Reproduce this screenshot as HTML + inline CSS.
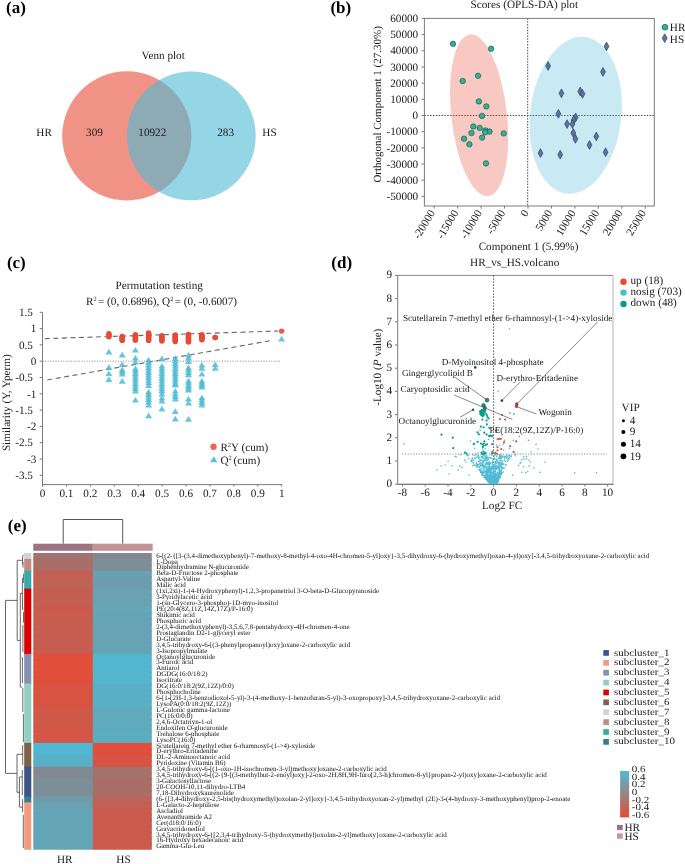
<!DOCTYPE html>
<html><head><meta charset="utf-8"><style>
html,body{margin:0;padding:0;background:#fff;}
svg{display:block;}
text{font-family:"Liberation Serif", serif; text-rendering:geometricPrecision;}
</style></head><body>
<svg width="685" height="864" viewBox="0 0 685 864">
<g style="filter:blur(0)">
<text x="6.00" y="12.70" font-size="17" text-anchor="start" fill="#000" font-weight="bold">(a)</text>
<text x="330.40" y="12.70" font-size="17" text-anchor="start" fill="#000" font-weight="bold">(b)</text>
<text x="6.90" y="268.00" font-size="17" text-anchor="start" fill="#000" font-weight="bold">(c)</text>
<text x="331.30" y="268.00" font-size="17" text-anchor="start" fill="#000" font-weight="bold">(d)</text>
<text x="7.80" y="531.30" font-size="17" text-anchor="start" fill="#000" font-weight="bold">(e)</text>
<circle cx="126.8" cy="135.9" r="64.6" fill="#E64B35" fill-opacity="0.6"/>
<circle cx="191.3" cy="135.9" r="64.4" fill="#4DBBD5" fill-opacity="0.6"/>
<text x="163.20" y="58.50" font-size="11.2" text-anchor="middle" fill="#1a1a1a">Venn plot</text>
<text x="36.30" y="136.20" font-size="11.2" text-anchor="start" fill="#1a1a1a">HR</text>
<text x="262.30" y="136.40" font-size="11.2" text-anchor="start" fill="#1a1a1a">HS</text>
<text x="94.50" y="136.20" font-size="11.2" text-anchor="middle" fill="#1a1a1a">309</text>
<text x="152.30" y="136.20" font-size="11.2" text-anchor="middle" fill="#1a1a1a">10922</text>
<text x="225.60" y="136.40" font-size="11.2" text-anchor="middle" fill="#1a1a1a">283</text>
<line x1="424.40" y1="115.50" x2="654.30" y2="115.50" stroke="#444" stroke-width="1.0" stroke-dasharray="1.45,1.4"/>
<line x1="527.70" y1="18.40" x2="527.70" y2="206.00" stroke="#444" stroke-width="1.0" stroke-dasharray="1.45,1.4"/>
<ellipse cx="479.1" cy="115.2" rx="27.8" ry="81.3" transform="rotate(-6.4 479.1 115.2)" fill="#E64B35" fill-opacity="0.3"/>
<ellipse cx="575.7" cy="115.3" rx="45.6" ry="78.8" transform="rotate(6.56 575.7 115.3)" fill="#4DBBD5" fill-opacity="0.3"/>
<rect x="424.4" y="18.4" width="229.90" height="187.60" fill="none" stroke="#7a7a7a" stroke-width="1.0"/>
<line x1="421.60" y1="18.40" x2="424.40" y2="18.40" stroke="#7a7a7a" stroke-width="1" />
<text x="418.20" y="22.10" font-size="11.2" text-anchor="end" fill="#1a1a1a">60000</text>
<line x1="421.60" y1="34.58" x2="424.40" y2="34.58" stroke="#7a7a7a" stroke-width="1" />
<text x="418.20" y="38.28" font-size="11.2" text-anchor="end" fill="#1a1a1a">50000</text>
<line x1="421.60" y1="50.76" x2="424.40" y2="50.76" stroke="#7a7a7a" stroke-width="1" />
<text x="418.20" y="54.46" font-size="11.2" text-anchor="end" fill="#1a1a1a">40000</text>
<line x1="421.60" y1="66.94" x2="424.40" y2="66.94" stroke="#7a7a7a" stroke-width="1" />
<text x="418.20" y="70.64" font-size="11.2" text-anchor="end" fill="#1a1a1a">30000</text>
<line x1="421.60" y1="83.12" x2="424.40" y2="83.12" stroke="#7a7a7a" stroke-width="1" />
<text x="418.20" y="86.82" font-size="11.2" text-anchor="end" fill="#1a1a1a">20000</text>
<line x1="421.60" y1="99.30" x2="424.40" y2="99.30" stroke="#7a7a7a" stroke-width="1" />
<text x="418.20" y="103.00" font-size="11.2" text-anchor="end" fill="#1a1a1a">10000</text>
<line x1="421.60" y1="115.48" x2="424.40" y2="115.48" stroke="#7a7a7a" stroke-width="1" />
<text x="418.20" y="119.18" font-size="11.2" text-anchor="end" fill="#1a1a1a">0</text>
<line x1="421.60" y1="131.66" x2="424.40" y2="131.66" stroke="#7a7a7a" stroke-width="1" />
<text x="418.20" y="135.36" font-size="11.2" text-anchor="end" fill="#1a1a1a">-10000</text>
<line x1="421.60" y1="147.84" x2="424.40" y2="147.84" stroke="#7a7a7a" stroke-width="1" />
<text x="418.20" y="151.54" font-size="11.2" text-anchor="end" fill="#1a1a1a">-20000</text>
<line x1="421.60" y1="164.02" x2="424.40" y2="164.02" stroke="#7a7a7a" stroke-width="1" />
<text x="418.20" y="167.72" font-size="11.2" text-anchor="end" fill="#1a1a1a">-30000</text>
<line x1="421.60" y1="180.20" x2="424.40" y2="180.20" stroke="#7a7a7a" stroke-width="1" />
<text x="418.20" y="183.90" font-size="11.2" text-anchor="end" fill="#1a1a1a">-40000</text>
<line x1="421.60" y1="196.38" x2="424.40" y2="196.38" stroke="#7a7a7a" stroke-width="1" />
<text x="418.20" y="200.08" font-size="11.2" text-anchor="end" fill="#1a1a1a">-50000</text>
<line x1="434.20" y1="206.00" x2="434.20" y2="208.60" stroke="#7a7a7a" stroke-width="1" />
<text transform="translate(435.40,212.60) rotate(-59)" font-size="11.2" text-anchor="end" fill="#1a1a1a">-20000</text>
<line x1="457.65" y1="206.00" x2="457.65" y2="208.60" stroke="#7a7a7a" stroke-width="1" />
<text transform="translate(458.85,212.60) rotate(-59)" font-size="11.2" text-anchor="end" fill="#1a1a1a">-15000</text>
<line x1="481.10" y1="206.00" x2="481.10" y2="208.60" stroke="#7a7a7a" stroke-width="1" />
<text transform="translate(482.30,212.60) rotate(-59)" font-size="11.2" text-anchor="end" fill="#1a1a1a">-10000</text>
<line x1="504.55" y1="206.00" x2="504.55" y2="208.60" stroke="#7a7a7a" stroke-width="1" />
<text transform="translate(505.75,212.60) rotate(-59)" font-size="11.2" text-anchor="end" fill="#1a1a1a">-5000</text>
<line x1="528.00" y1="206.00" x2="528.00" y2="208.60" stroke="#7a7a7a" stroke-width="1" />
<text transform="translate(529.20,212.60) rotate(-59)" font-size="11.2" text-anchor="end" fill="#1a1a1a">0</text>
<line x1="551.45" y1="206.00" x2="551.45" y2="208.60" stroke="#7a7a7a" stroke-width="1" />
<text transform="translate(552.65,212.60) rotate(-59)" font-size="11.2" text-anchor="end" fill="#1a1a1a">5000</text>
<line x1="574.90" y1="206.00" x2="574.90" y2="208.60" stroke="#7a7a7a" stroke-width="1" />
<text transform="translate(576.10,212.60) rotate(-59)" font-size="11.2" text-anchor="end" fill="#1a1a1a">10000</text>
<line x1="598.35" y1="206.00" x2="598.35" y2="208.60" stroke="#7a7a7a" stroke-width="1" />
<text transform="translate(599.55,212.60) rotate(-59)" font-size="11.2" text-anchor="end" fill="#1a1a1a">15000</text>
<line x1="621.80" y1="206.00" x2="621.80" y2="208.60" stroke="#7a7a7a" stroke-width="1" />
<text transform="translate(623.00,212.60) rotate(-59)" font-size="11.2" text-anchor="end" fill="#1a1a1a">20000</text>
<line x1="645.25" y1="206.00" x2="645.25" y2="208.60" stroke="#7a7a7a" stroke-width="1" />
<text transform="translate(646.45,212.60) rotate(-59)" font-size="11.2" text-anchor="end" fill="#1a1a1a">25000</text>
<text x="528.50" y="249.60" font-size="11.2" text-anchor="middle" fill="#1a1a1a">Component 1 (5.99%)</text>
<text x="524.30" y="7.60" font-size="11.2" text-anchor="middle" fill="#1a1a1a">Scores (OPLS-DA) plot</text>
<text transform="translate(380.6,104.4) rotate(-90)" font-size="11.0" text-anchor="middle" fill="#1a1a1a">Orthogonal Component 1 (27.30%)</text>
<circle cx="452.95" cy="43.85" r="2.75" fill="#2DB39A" stroke="#24453e" stroke-width="0.6"/>
<circle cx="491.1" cy="48.8" r="2.75" fill="#2DB39A" stroke="#24453e" stroke-width="0.6"/>
<circle cx="478" cy="75.8" r="2.75" fill="#2DB39A" stroke="#24453e" stroke-width="0.6"/>
<circle cx="462.7" cy="81" r="2.75" fill="#2DB39A" stroke="#24453e" stroke-width="0.6"/>
<circle cx="478.9" cy="101.4" r="2.75" fill="#2DB39A" stroke="#24453e" stroke-width="0.6"/>
<circle cx="486.3" cy="106.4" r="2.75" fill="#2DB39A" stroke="#24453e" stroke-width="0.6"/>
<circle cx="482" cy="115.9" r="2.75" fill="#2DB39A" stroke="#24453e" stroke-width="0.6"/>
<circle cx="473.3" cy="126.5" r="2.75" fill="#2DB39A" stroke="#24453e" stroke-width="0.6"/>
<circle cx="479.7" cy="127.9" r="2.75" fill="#2DB39A" stroke="#24453e" stroke-width="0.6"/>
<circle cx="485.5" cy="130.5" r="2.75" fill="#2DB39A" stroke="#24453e" stroke-width="0.6"/>
<circle cx="489.5" cy="131.6" r="2.75" fill="#2DB39A" stroke="#24453e" stroke-width="0.6"/>
<circle cx="485.2" cy="132.3" r="2.75" fill="#2DB39A" stroke="#24453e" stroke-width="0.6"/>
<circle cx="471.5" cy="133.1" r="2.75" fill="#2DB39A" stroke="#24453e" stroke-width="0.6"/>
<circle cx="503.7" cy="133.4" r="2.75" fill="#2DB39A" stroke="#24453e" stroke-width="0.6"/>
<circle cx="464" cy="138.7" r="2.75" fill="#2DB39A" stroke="#24453e" stroke-width="0.6"/>
<circle cx="482.1" cy="137.6" r="2.75" fill="#2DB39A" stroke="#24453e" stroke-width="0.6"/>
<circle cx="469.4" cy="144.3" r="2.75" fill="#2DB39A" stroke="#24453e" stroke-width="0.6"/>
<circle cx="486" cy="163.4" r="2.75" fill="#2DB39A" stroke="#24453e" stroke-width="0.6"/>
<path d="M606.50,42.00 L608.95,46.40 L606.50,50.80 L604.05,46.40 Z" fill="#5A72A8" stroke="#2a3550" stroke-width="0.6"/>
<path d="M548.10,61.60 L550.55,66.00 L548.10,70.40 L545.65,66.00 Z" fill="#5A72A8" stroke="#2a3550" stroke-width="0.6"/>
<path d="M603.00,67.50 L605.45,71.90 L603.00,76.30 L600.55,71.90 Z" fill="#5A72A8" stroke="#2a3550" stroke-width="0.6"/>
<path d="M561.40,88.90 L563.85,93.30 L561.40,97.70 L558.95,93.30 Z" fill="#5A72A8" stroke="#2a3550" stroke-width="0.6"/>
<path d="M580.20,87.00 L582.65,91.40 L580.20,95.80 L577.75,91.40 Z" fill="#5A72A8" stroke="#2a3550" stroke-width="0.6"/>
<path d="M582.50,89.50 L584.95,93.90 L582.50,98.30 L580.05,93.90 Z" fill="#5A72A8" stroke="#2a3550" stroke-width="0.6"/>
<path d="M558.40,109.40 L560.85,113.80 L558.40,118.20 L555.95,113.80 Z" fill="#5A72A8" stroke="#2a3550" stroke-width="0.6"/>
<path d="M575.60,113.00 L578.05,117.40 L575.60,121.80 L573.15,117.40 Z" fill="#5A72A8" stroke="#2a3550" stroke-width="0.6"/>
<path d="M573.70,115.70 L576.15,120.10 L573.70,124.50 L571.25,120.10 Z" fill="#5A72A8" stroke="#2a3550" stroke-width="0.6"/>
<path d="M567.10,119.70 L569.55,124.10 L567.10,128.50 L564.65,124.10 Z" fill="#5A72A8" stroke="#2a3550" stroke-width="0.6"/>
<path d="M572.40,119.70 L574.85,124.10 L572.40,128.50 L569.95,124.10 Z" fill="#5A72A8" stroke="#2a3550" stroke-width="0.6"/>
<path d="M573.30,128.60 L575.75,133.00 L573.30,137.40 L570.85,133.00 Z" fill="#5A72A8" stroke="#2a3550" stroke-width="0.6"/>
<path d="M575.40,134.50 L577.85,138.90 L575.40,143.30 L572.95,138.90 Z" fill="#5A72A8" stroke="#2a3550" stroke-width="0.6"/>
<path d="M596.30,132.00 L598.75,136.40 L596.30,140.80 L593.85,136.40 Z" fill="#5A72A8" stroke="#2a3550" stroke-width="0.6"/>
<path d="M589.50,140.60 L591.95,145.00 L589.50,149.40 L587.05,145.00 Z" fill="#5A72A8" stroke="#2a3550" stroke-width="0.6"/>
<path d="M605.60,147.80 L608.05,152.20 L605.60,156.60 L603.15,152.20 Z" fill="#5A72A8" stroke="#2a3550" stroke-width="0.6"/>
<path d="M540.50,148.70 L542.95,153.10 L540.50,157.50 L538.05,153.10 Z" fill="#5A72A8" stroke="#2a3550" stroke-width="0.6"/>
<path d="M560.20,150.30 L562.65,154.70 L560.20,159.10 L557.75,154.70 Z" fill="#5A72A8" stroke="#2a3550" stroke-width="0.6"/>
<circle cx="665" cy="27.2" r="2.9" fill="#2DB39A" stroke="#24453e" stroke-width="0.6"/>
<text x="669.80" y="31.00" font-size="11.2" text-anchor="start" fill="#1a1a1a">HR</text>
<path d="M664.7,33.8 L667.2,38.2 L664.7,42.6 L662.2,38.2 Z" fill="#5A72A8" stroke="#2a3550" stroke-width="0.6"/>
<text x="669.80" y="42.90" font-size="11.2" text-anchor="start" fill="#1a1a1a">HS</text>
<line x1="42.50" y1="312.30" x2="42.50" y2="486.70" stroke="#7a7a7a" stroke-width="1" />
<line x1="42.50" y1="484.60" x2="282.20" y2="484.60" stroke="#7a7a7a" stroke-width="1" />
<line x1="39.70" y1="475.30" x2="42.50" y2="475.30" stroke="#7a7a7a" stroke-width="1" />
<text x="32.90" y="479.00" font-size="11.2" text-anchor="end" fill="#1a1a1a">-3.5</text>
<line x1="39.70" y1="459.00" x2="42.50" y2="459.00" stroke="#7a7a7a" stroke-width="1" />
<text x="36.40" y="462.70" font-size="11.2" text-anchor="end" fill="#1a1a1a">-3</text>
<line x1="39.70" y1="442.70" x2="42.50" y2="442.70" stroke="#7a7a7a" stroke-width="1" />
<text x="32.90" y="446.40" font-size="11.2" text-anchor="end" fill="#1a1a1a">-2.5</text>
<line x1="39.70" y1="426.40" x2="42.50" y2="426.40" stroke="#7a7a7a" stroke-width="1" />
<text x="36.40" y="430.10" font-size="11.2" text-anchor="end" fill="#1a1a1a">-2</text>
<line x1="39.70" y1="410.10" x2="42.50" y2="410.10" stroke="#7a7a7a" stroke-width="1" />
<text x="32.90" y="413.80" font-size="11.2" text-anchor="end" fill="#1a1a1a">-1.5</text>
<line x1="39.70" y1="393.80" x2="42.50" y2="393.80" stroke="#7a7a7a" stroke-width="1" />
<text x="36.40" y="397.50" font-size="11.2" text-anchor="end" fill="#1a1a1a">-1</text>
<line x1="39.70" y1="377.50" x2="42.50" y2="377.50" stroke="#7a7a7a" stroke-width="1" />
<text x="32.90" y="381.20" font-size="11.2" text-anchor="end" fill="#1a1a1a">-0.5</text>
<line x1="39.70" y1="361.20" x2="42.50" y2="361.20" stroke="#7a7a7a" stroke-width="1" />
<text x="36.40" y="364.90" font-size="11.2" text-anchor="end" fill="#1a1a1a">0</text>
<line x1="39.70" y1="344.90" x2="42.50" y2="344.90" stroke="#7a7a7a" stroke-width="1" />
<text x="32.90" y="348.60" font-size="11.2" text-anchor="end" fill="#1a1a1a">0.5</text>
<line x1="39.70" y1="328.60" x2="42.50" y2="328.60" stroke="#7a7a7a" stroke-width="1" />
<text x="36.40" y="332.30" font-size="11.2" text-anchor="end" fill="#1a1a1a">1</text>
<line x1="39.70" y1="312.30" x2="42.50" y2="312.30" stroke="#7a7a7a" stroke-width="1" />
<text x="32.90" y="316.00" font-size="11.2" text-anchor="end" fill="#1a1a1a">1.5</text>
<line x1="42.50" y1="484.60" x2="42.50" y2="486.60" stroke="#7a7a7a" stroke-width="1" />
<text x="42.50" y="496.60" font-size="11.2" text-anchor="middle" fill="#1a1a1a">0</text>
<line x1="66.42" y1="484.60" x2="66.42" y2="486.60" stroke="#7a7a7a" stroke-width="1" />
<text x="66.42" y="496.60" font-size="11.2" text-anchor="middle" fill="#1a1a1a">0.1</text>
<line x1="90.34" y1="484.60" x2="90.34" y2="486.60" stroke="#7a7a7a" stroke-width="1" />
<text x="90.34" y="496.60" font-size="11.2" text-anchor="middle" fill="#1a1a1a">0.2</text>
<line x1="114.26" y1="484.60" x2="114.26" y2="486.60" stroke="#7a7a7a" stroke-width="1" />
<text x="114.26" y="496.60" font-size="11.2" text-anchor="middle" fill="#1a1a1a">0.3</text>
<line x1="138.18" y1="484.60" x2="138.18" y2="486.60" stroke="#7a7a7a" stroke-width="1" />
<text x="138.18" y="496.60" font-size="11.2" text-anchor="middle" fill="#1a1a1a">0.4</text>
<line x1="162.10" y1="484.60" x2="162.10" y2="486.60" stroke="#7a7a7a" stroke-width="1" />
<text x="162.10" y="496.60" font-size="11.2" text-anchor="middle" fill="#1a1a1a">0.5</text>
<line x1="186.02" y1="484.60" x2="186.02" y2="486.60" stroke="#7a7a7a" stroke-width="1" />
<text x="186.02" y="496.60" font-size="11.2" text-anchor="middle" fill="#1a1a1a">0.6</text>
<line x1="209.94" y1="484.60" x2="209.94" y2="486.60" stroke="#7a7a7a" stroke-width="1" />
<text x="209.94" y="496.60" font-size="11.2" text-anchor="middle" fill="#1a1a1a">0.7</text>
<line x1="233.86" y1="484.60" x2="233.86" y2="486.60" stroke="#7a7a7a" stroke-width="1" />
<text x="233.86" y="496.60" font-size="11.2" text-anchor="middle" fill="#1a1a1a">0.8</text>
<line x1="257.78" y1="484.60" x2="257.78" y2="486.60" stroke="#7a7a7a" stroke-width="1" />
<text x="257.78" y="496.60" font-size="11.2" text-anchor="middle" fill="#1a1a1a">0.9</text>
<line x1="281.70" y1="484.60" x2="281.70" y2="486.60" stroke="#7a7a7a" stroke-width="1" />
<text x="281.70" y="496.60" font-size="11.2" text-anchor="middle" fill="#1a1a1a">1</text>
<line x1="42.50" y1="361.20" x2="281.70" y2="361.20" stroke="#888" stroke-width="1" stroke-dasharray="1,1.6"/>
<text x="159.20" y="288.60" font-size="11.2" text-anchor="middle" fill="#1a1a1a">Permutation testing</text>
<text x="86.0" y="304.7" font-size="11.2" fill="#1a1a1a">R<tspan font-size="6.3" dy="-4.2">2</tspan><tspan dy="4.2" dx="1.4">= (0, 0.6896), Q</tspan><tspan font-size="6.3" dy="-4.2">2</tspan><tspan dy="4.2" dx="1.4">= (0, -0.6007)</tspan></text>
<text transform="translate(10.3,402.7) rotate(-90)" font-size="11.2" text-anchor="middle" fill="#1a1a1a">Similarity (Y, Yperm)</text>
<line x1="44.89" y1="338.64" x2="278.11" y2="331.01" stroke="#666" stroke-width="1.1" stroke-dasharray="5,3.5"/>
<line x1="47.28" y1="379.94" x2="273.33" y2="340.20" stroke="#666" stroke-width="1.1" stroke-dasharray="5,3.5"/>
<circle cx="108.9" cy="333.80" r="2.7" fill="#E64B35"/>
<circle cx="108.9" cy="334.80" r="2.7" fill="#E64B35"/>
<circle cx="108.9" cy="335.80" r="2.7" fill="#E64B35"/>
<circle cx="108.9" cy="336.80" r="2.7" fill="#E64B35"/>
<circle cx="122.2" cy="336.40" r="2.7" fill="#E64B35"/>
<circle cx="122.2" cy="337.20" r="2.7" fill="#E64B35"/>
<circle cx="122.2" cy="338.00" r="2.7" fill="#E64B35"/>
<circle cx="122.2" cy="338.80" r="2.7" fill="#E64B35"/>
<circle cx="122.2" cy="339.60" r="2.7" fill="#E64B35"/>
<circle cx="122.2" cy="340.40" r="2.7" fill="#E64B35"/>
<circle cx="135.4" cy="334.60" r="2.7" fill="#E64B35"/>
<circle cx="135.4" cy="335.53" r="2.7" fill="#E64B35"/>
<circle cx="135.4" cy="336.47" r="2.7" fill="#E64B35"/>
<circle cx="135.4" cy="337.40" r="2.7" fill="#E64B35"/>
<circle cx="135.4" cy="338.33" r="2.7" fill="#E64B35"/>
<circle cx="135.4" cy="339.27" r="2.7" fill="#E64B35"/>
<circle cx="135.4" cy="340.20" r="2.7" fill="#E64B35"/>
<circle cx="148.6" cy="333.00" r="2.7" fill="#E64B35"/>
<circle cx="148.6" cy="333.82" r="2.7" fill="#E64B35"/>
<circle cx="148.6" cy="334.64" r="2.7" fill="#E64B35"/>
<circle cx="148.6" cy="335.47" r="2.7" fill="#E64B35"/>
<circle cx="148.6" cy="336.29" r="2.7" fill="#E64B35"/>
<circle cx="148.6" cy="337.11" r="2.7" fill="#E64B35"/>
<circle cx="148.6" cy="337.93" r="2.7" fill="#E64B35"/>
<circle cx="148.6" cy="338.76" r="2.7" fill="#E64B35"/>
<circle cx="148.6" cy="339.58" r="2.7" fill="#E64B35"/>
<circle cx="148.6" cy="340.40" r="2.7" fill="#E64B35"/>
<circle cx="161.9" cy="335.60" r="2.7" fill="#E64B35"/>
<circle cx="161.9" cy="336.52" r="2.7" fill="#E64B35"/>
<circle cx="161.9" cy="337.43" r="2.7" fill="#E64B35"/>
<circle cx="161.9" cy="338.35" r="2.7" fill="#E64B35"/>
<circle cx="161.9" cy="339.27" r="2.7" fill="#E64B35"/>
<circle cx="161.9" cy="340.18" r="2.7" fill="#E64B35"/>
<circle cx="161.9" cy="341.10" r="2.7" fill="#E64B35"/>
<circle cx="175.3" cy="335.00" r="2.7" fill="#E64B35"/>
<circle cx="175.3" cy="335.81" r="2.7" fill="#E64B35"/>
<circle cx="175.3" cy="336.62" r="2.7" fill="#E64B35"/>
<circle cx="175.3" cy="337.44" r="2.7" fill="#E64B35"/>
<circle cx="175.3" cy="338.25" r="2.7" fill="#E64B35"/>
<circle cx="175.3" cy="339.06" r="2.7" fill="#E64B35"/>
<circle cx="175.3" cy="339.88" r="2.7" fill="#E64B35"/>
<circle cx="175.3" cy="340.69" r="2.7" fill="#E64B35"/>
<circle cx="175.3" cy="341.50" r="2.7" fill="#E64B35"/>
<circle cx="188.5" cy="334.50" r="2.7" fill="#E64B35"/>
<circle cx="188.5" cy="335.33" r="2.7" fill="#E64B35"/>
<circle cx="188.5" cy="336.17" r="2.7" fill="#E64B35"/>
<circle cx="188.5" cy="337.00" r="2.7" fill="#E64B35"/>
<circle cx="188.5" cy="337.83" r="2.7" fill="#E64B35"/>
<circle cx="188.5" cy="338.67" r="2.7" fill="#E64B35"/>
<circle cx="188.5" cy="339.50" r="2.7" fill="#E64B35"/>
<circle cx="188.5" cy="340.33" r="2.7" fill="#E64B35"/>
<circle cx="188.5" cy="341.17" r="2.7" fill="#E64B35"/>
<circle cx="188.5" cy="342.00" r="2.7" fill="#E64B35"/>
<circle cx="201.9" cy="334.80" r="2.7" fill="#E64B35"/>
<circle cx="201.9" cy="335.63" r="2.7" fill="#E64B35"/>
<circle cx="201.9" cy="336.47" r="2.7" fill="#E64B35"/>
<circle cx="201.9" cy="337.30" r="2.7" fill="#E64B35"/>
<circle cx="201.9" cy="338.13" r="2.7" fill="#E64B35"/>
<circle cx="201.9" cy="338.97" r="2.7" fill="#E64B35"/>
<circle cx="201.9" cy="339.80" r="2.7" fill="#E64B35"/>
<circle cx="215.2" cy="337.50" r="2.7" fill="#E64B35"/>
<circle cx="215.2" cy="337.50" r="2.7" fill="#E64B35"/>
<path d="M108.90,348.80 L112.40,354.50 L105.40,354.50 Z" fill="#4DBBD5" fill-opacity="0.85"/>
<path d="M108.90,364.20 L112.40,369.90 L105.40,369.90 Z" fill="#4DBBD5" fill-opacity="0.85"/>
<path d="M108.90,370.40 L112.40,376.10 L105.40,376.10 Z" fill="#4DBBD5" fill-opacity="0.85"/>
<path d="M108.90,376.30 L112.40,382.00 L105.40,382.00 Z" fill="#4DBBD5" fill-opacity="0.85"/>
<path d="M122.20,351.80 L125.70,357.50 L118.70,357.50 Z" fill="#4DBBD5" fill-opacity="0.85"/>
<path d="M122.20,361.20 L125.70,366.90 L118.70,366.90 Z" fill="#4DBBD5" fill-opacity="0.85"/>
<path d="M122.20,366.50 L125.70,372.20 L118.70,372.20 Z" fill="#4DBBD5" fill-opacity="0.85"/>
<path d="M122.20,368.50 L125.70,374.20 L118.70,374.20 Z" fill="#4DBBD5" fill-opacity="0.85"/>
<path d="M122.20,370.70 L125.70,376.40 L118.70,376.40 Z" fill="#4DBBD5" fill-opacity="0.85"/>
<path d="M122.20,378.10 L125.70,383.80 L118.70,383.80 Z" fill="#4DBBD5" fill-opacity="0.85"/>
<path d="M135.40,346.90 L138.90,352.60 L131.90,352.60 Z" fill="#4DBBD5" fill-opacity="0.85"/>
<path d="M135.40,354.90 L138.90,360.60 L131.90,360.60 Z" fill="#4DBBD5" fill-opacity="0.85"/>
<path d="M135.40,358.70 L138.90,364.40 L131.90,364.40 Z" fill="#4DBBD5" fill-opacity="0.85"/>
<path d="M135.40,365.60 L138.90,371.30 L131.90,371.30 Z" fill="#4DBBD5" fill-opacity="0.85"/>
<path d="M135.40,367.90 L138.90,373.60 L131.90,373.60 Z" fill="#4DBBD5" fill-opacity="0.85"/>
<path d="M135.40,370.40 L138.90,376.10 L131.90,376.10 Z" fill="#4DBBD5" fill-opacity="0.85"/>
<path d="M135.40,372.90 L138.90,378.60 L131.90,378.60 Z" fill="#4DBBD5" fill-opacity="0.85"/>
<path d="M135.40,375.40 L138.90,381.10 L131.90,381.10 Z" fill="#4DBBD5" fill-opacity="0.85"/>
<path d="M135.40,377.90 L138.90,383.60 L131.90,383.60 Z" fill="#4DBBD5" fill-opacity="0.85"/>
<path d="M135.40,380.40 L138.90,386.10 L131.90,386.10 Z" fill="#4DBBD5" fill-opacity="0.85"/>
<path d="M135.40,382.90 L138.90,388.60 L131.90,388.60 Z" fill="#4DBBD5" fill-opacity="0.85"/>
<path d="M135.40,385.40 L138.90,391.10 L131.90,391.10 Z" fill="#4DBBD5" fill-opacity="0.85"/>
<path d="M135.40,387.90 L138.90,393.60 L131.90,393.60 Z" fill="#4DBBD5" fill-opacity="0.85"/>
<path d="M135.40,396.90 L138.90,402.60 L131.90,402.60 Z" fill="#4DBBD5" fill-opacity="0.85"/>
<path d="M148.60,356.90 L152.10,362.60 L145.10,362.60 Z" fill="#4DBBD5" fill-opacity="0.85"/>
<path d="M148.60,359.40 L152.10,365.10 L145.10,365.10 Z" fill="#4DBBD5" fill-opacity="0.85"/>
<path d="M148.60,361.90 L152.10,367.60 L145.10,367.60 Z" fill="#4DBBD5" fill-opacity="0.85"/>
<path d="M148.60,364.40 L152.10,370.10 L145.10,370.10 Z" fill="#4DBBD5" fill-opacity="0.85"/>
<path d="M148.60,366.90 L152.10,372.60 L145.10,372.60 Z" fill="#4DBBD5" fill-opacity="0.85"/>
<path d="M148.60,369.40 L152.10,375.10 L145.10,375.10 Z" fill="#4DBBD5" fill-opacity="0.85"/>
<path d="M148.60,371.90 L152.10,377.60 L145.10,377.60 Z" fill="#4DBBD5" fill-opacity="0.85"/>
<path d="M148.60,374.40 L152.10,380.10 L145.10,380.10 Z" fill="#4DBBD5" fill-opacity="0.85"/>
<path d="M148.60,376.90 L152.10,382.60 L145.10,382.60 Z" fill="#4DBBD5" fill-opacity="0.85"/>
<path d="M148.60,379.40 L152.10,385.10 L145.10,385.10 Z" fill="#4DBBD5" fill-opacity="0.85"/>
<path d="M148.60,382.30 L152.10,388.00 L145.10,388.00 Z" fill="#4DBBD5" fill-opacity="0.85"/>
<path d="M148.60,388.80 L152.10,394.50 L145.10,394.50 Z" fill="#4DBBD5" fill-opacity="0.85"/>
<path d="M148.60,391.40 L152.10,397.10 L145.10,397.10 Z" fill="#4DBBD5" fill-opacity="0.85"/>
<path d="M148.60,393.90 L152.10,399.60 L145.10,399.60 Z" fill="#4DBBD5" fill-opacity="0.85"/>
<path d="M148.60,396.40 L152.10,402.10 L145.10,402.10 Z" fill="#4DBBD5" fill-opacity="0.85"/>
<path d="M148.60,398.90 L152.10,404.60 L145.10,404.60 Z" fill="#4DBBD5" fill-opacity="0.85"/>
<path d="M148.60,401.70 L152.10,407.40 L145.10,407.40 Z" fill="#4DBBD5" fill-opacity="0.85"/>
<path d="M148.60,412.60 L152.10,418.30 L145.10,418.30 Z" fill="#4DBBD5" fill-opacity="0.85"/>
<path d="M161.90,355.60 L165.40,361.30 L158.40,361.30 Z" fill="#4DBBD5" fill-opacity="0.85"/>
<path d="M161.90,362.90 L165.40,368.60 L158.40,368.60 Z" fill="#4DBBD5" fill-opacity="0.85"/>
<path d="M161.90,365.40 L165.40,371.10 L158.40,371.10 Z" fill="#4DBBD5" fill-opacity="0.85"/>
<path d="M161.90,367.90 L165.40,373.60 L158.40,373.60 Z" fill="#4DBBD5" fill-opacity="0.85"/>
<path d="M161.90,370.40 L165.40,376.10 L158.40,376.10 Z" fill="#4DBBD5" fill-opacity="0.85"/>
<path d="M161.90,372.90 L165.40,378.60 L158.40,378.60 Z" fill="#4DBBD5" fill-opacity="0.85"/>
<path d="M161.90,375.40 L165.40,381.10 L158.40,381.10 Z" fill="#4DBBD5" fill-opacity="0.85"/>
<path d="M161.90,377.90 L165.40,383.60 L158.40,383.60 Z" fill="#4DBBD5" fill-opacity="0.85"/>
<path d="M161.90,380.40 L165.40,386.10 L158.40,386.10 Z" fill="#4DBBD5" fill-opacity="0.85"/>
<path d="M161.90,382.90 L165.40,388.60 L158.40,388.60 Z" fill="#4DBBD5" fill-opacity="0.85"/>
<path d="M161.90,385.40 L165.40,391.10 L158.40,391.10 Z" fill="#4DBBD5" fill-opacity="0.85"/>
<path d="M161.90,387.90 L165.40,393.60 L158.40,393.60 Z" fill="#4DBBD5" fill-opacity="0.85"/>
<path d="M161.90,390.90 L165.40,396.60 L158.40,396.60 Z" fill="#4DBBD5" fill-opacity="0.85"/>
<path d="M161.90,394.90 L165.40,400.60 L158.40,400.60 Z" fill="#4DBBD5" fill-opacity="0.85"/>
<path d="M161.90,397.90 L165.40,403.60 L158.40,403.60 Z" fill="#4DBBD5" fill-opacity="0.85"/>
<path d="M161.90,405.70 L165.40,411.40 L158.40,411.40 Z" fill="#4DBBD5" fill-opacity="0.85"/>
<path d="M175.30,355.30 L178.80,361.00 L171.80,361.00 Z" fill="#4DBBD5" fill-opacity="0.85"/>
<path d="M175.30,357.90 L178.80,363.60 L171.80,363.60 Z" fill="#4DBBD5" fill-opacity="0.85"/>
<path d="M175.30,360.40 L178.80,366.10 L171.80,366.10 Z" fill="#4DBBD5" fill-opacity="0.85"/>
<path d="M175.30,362.90 L178.80,368.60 L171.80,368.60 Z" fill="#4DBBD5" fill-opacity="0.85"/>
<path d="M175.30,365.40 L178.80,371.10 L171.80,371.10 Z" fill="#4DBBD5" fill-opacity="0.85"/>
<path d="M175.30,367.90 L178.80,373.60 L171.80,373.60 Z" fill="#4DBBD5" fill-opacity="0.85"/>
<path d="M175.30,370.40 L178.80,376.10 L171.80,376.10 Z" fill="#4DBBD5" fill-opacity="0.85"/>
<path d="M175.30,372.90 L178.80,378.60 L171.80,378.60 Z" fill="#4DBBD5" fill-opacity="0.85"/>
<path d="M175.30,375.40 L178.80,381.10 L171.80,381.10 Z" fill="#4DBBD5" fill-opacity="0.85"/>
<path d="M175.30,377.90 L178.80,383.60 L171.80,383.60 Z" fill="#4DBBD5" fill-opacity="0.85"/>
<path d="M175.30,380.40 L178.80,386.10 L171.80,386.10 Z" fill="#4DBBD5" fill-opacity="0.85"/>
<path d="M175.30,381.90 L178.80,387.60 L171.80,387.60 Z" fill="#4DBBD5" fill-opacity="0.85"/>
<path d="M175.30,387.90 L178.80,393.60 L171.80,393.60 Z" fill="#4DBBD5" fill-opacity="0.85"/>
<path d="M175.30,390.90 L178.80,396.60 L171.80,396.60 Z" fill="#4DBBD5" fill-opacity="0.85"/>
<path d="M175.30,393.40 L178.80,399.10 L171.80,399.10 Z" fill="#4DBBD5" fill-opacity="0.85"/>
<path d="M175.30,395.70 L178.80,401.40 L171.80,401.40 Z" fill="#4DBBD5" fill-opacity="0.85"/>
<path d="M175.30,408.20 L178.80,413.90 L171.80,413.90 Z" fill="#4DBBD5" fill-opacity="0.85"/>
<path d="M175.30,415.70 L178.80,421.40 L171.80,421.40 Z" fill="#4DBBD5" fill-opacity="0.85"/>
<path d="M188.50,351.90 L192.00,357.60 L185.00,357.60 Z" fill="#4DBBD5" fill-opacity="0.85"/>
<path d="M188.50,354.90 L192.00,360.60 L185.00,360.60 Z" fill="#4DBBD5" fill-opacity="0.85"/>
<path d="M188.50,358.40 L192.00,364.10 L185.00,364.10 Z" fill="#4DBBD5" fill-opacity="0.85"/>
<path d="M188.50,364.50 L192.00,370.20 L185.00,370.20 Z" fill="#4DBBD5" fill-opacity="0.85"/>
<path d="M188.50,366.90 L192.00,372.60 L185.00,372.60 Z" fill="#4DBBD5" fill-opacity="0.85"/>
<path d="M188.50,369.40 L192.00,375.10 L185.00,375.10 Z" fill="#4DBBD5" fill-opacity="0.85"/>
<path d="M188.50,371.60 L192.00,377.30 L185.00,377.30 Z" fill="#4DBBD5" fill-opacity="0.85"/>
<path d="M188.50,377.80 L192.00,383.50 L185.00,383.50 Z" fill="#4DBBD5" fill-opacity="0.85"/>
<path d="M188.50,379.90 L192.00,385.60 L185.00,385.60 Z" fill="#4DBBD5" fill-opacity="0.85"/>
<path d="M188.50,382.40 L192.00,388.10 L185.00,388.10 Z" fill="#4DBBD5" fill-opacity="0.85"/>
<path d="M188.50,384.90 L192.00,390.60 L185.00,390.60 Z" fill="#4DBBD5" fill-opacity="0.85"/>
<path d="M188.50,386.90 L192.00,392.60 L185.00,392.60 Z" fill="#4DBBD5" fill-opacity="0.85"/>
<path d="M188.50,395.90 L192.00,401.60 L185.00,401.60 Z" fill="#4DBBD5" fill-opacity="0.85"/>
<path d="M188.50,399.90 L192.00,405.60 L185.00,405.60 Z" fill="#4DBBD5" fill-opacity="0.85"/>
<path d="M188.50,416.10 L192.00,421.80 L185.00,421.80 Z" fill="#4DBBD5" fill-opacity="0.85"/>
<path d="M201.90,361.90 L205.40,367.60 L198.40,367.60 Z" fill="#4DBBD5" fill-opacity="0.85"/>
<path d="M201.90,365.00 L205.40,370.70 L198.40,370.70 Z" fill="#4DBBD5" fill-opacity="0.85"/>
<path d="M201.90,370.90 L205.40,376.60 L198.40,376.60 Z" fill="#4DBBD5" fill-opacity="0.85"/>
<path d="M201.90,377.90 L205.40,383.60 L198.40,383.60 Z" fill="#4DBBD5" fill-opacity="0.85"/>
<path d="M201.90,379.90 L205.40,385.60 L198.40,385.60 Z" fill="#4DBBD5" fill-opacity="0.85"/>
<path d="M201.90,381.90 L205.40,387.60 L198.40,387.60 Z" fill="#4DBBD5" fill-opacity="0.85"/>
<path d="M201.90,383.90 L205.40,389.60 L198.40,389.60 Z" fill="#4DBBD5" fill-opacity="0.85"/>
<path d="M201.90,394.60 L205.40,400.30 L198.40,400.30 Z" fill="#4DBBD5" fill-opacity="0.85"/>
<path d="M201.90,396.90 L205.40,402.60 L198.40,402.60 Z" fill="#4DBBD5" fill-opacity="0.85"/>
<path d="M201.90,399.40 L205.40,405.10 L198.40,405.10 Z" fill="#4DBBD5" fill-opacity="0.85"/>
<path d="M201.90,401.80 L205.40,407.50 L198.40,407.50 Z" fill="#4DBBD5" fill-opacity="0.85"/>
<path d="M215.20,361.40 L218.70,367.10 L211.70,367.10 Z" fill="#4DBBD5" fill-opacity="0.85"/>
<path d="M215.20,365.00 L218.70,370.70 L211.70,370.70 Z" fill="#4DBBD5" fill-opacity="0.85"/>
<circle cx="281.6" cy="331.1" r="2.7" fill="#E64B35" fill-opacity="0.9"/>
<path d="M281.60,335.80 L285.10,341.50 L278.10,341.50 Z" fill="#4DBBD5" fill-opacity="0.85"/>
<circle cx="213.5" cy="446.8" r="3.2" fill="#E8695A"/>
<text x="220.4" y="451.2" font-size="11.2" fill="#1a1a1a">R<tspan font-size="6.3" dy="-4.2">2</tspan><tspan dy="4.2">Y (cum)</tspan></text>
<path d="M213.80,456.30 L217.40,462.20 L210.20,462.20 Z" fill="#5BC0DA"/>
<text x="220.4" y="463.9" font-size="11.2" fill="#1a1a1a">Q<tspan font-size="6.3" dy="-4.2">2</tspan><tspan dy="4.2" dx="1.8">(cum)</tspan></text>
<line x1="397.70" y1="275.40" x2="613.00" y2="275.40" stroke="#858585" stroke-width="1.0" />
<line x1="613.00" y1="275.40" x2="613.00" y2="484.20" stroke="#bbbbbb" stroke-width="1.1" />
<line x1="397.70" y1="275.40" x2="397.70" y2="484.20" stroke="#7a7a7a" stroke-width="1.0" />
<line x1="397.70" y1="484.20" x2="613.50" y2="484.20" stroke="#505050" stroke-width="1.1" />
<line x1="395.00" y1="484.20" x2="397.70" y2="484.20" stroke="#7a7a7a" stroke-width="1" />
<text x="392.20" y="487.20" font-size="11.2" text-anchor="end" fill="#1a1a1a">0</text>
<line x1="395.00" y1="461.00" x2="397.70" y2="461.00" stroke="#7a7a7a" stroke-width="1" />
<text x="392.20" y="464.00" font-size="11.2" text-anchor="end" fill="#1a1a1a">1</text>
<line x1="395.00" y1="437.80" x2="397.70" y2="437.80" stroke="#7a7a7a" stroke-width="1" />
<text x="392.20" y="440.80" font-size="11.2" text-anchor="end" fill="#1a1a1a">2</text>
<line x1="395.00" y1="414.60" x2="397.70" y2="414.60" stroke="#7a7a7a" stroke-width="1" />
<text x="392.20" y="417.60" font-size="11.2" text-anchor="end" fill="#1a1a1a">3</text>
<line x1="395.00" y1="391.40" x2="397.70" y2="391.40" stroke="#7a7a7a" stroke-width="1" />
<text x="392.20" y="394.40" font-size="11.2" text-anchor="end" fill="#1a1a1a">4</text>
<line x1="395.00" y1="368.20" x2="397.70" y2="368.20" stroke="#7a7a7a" stroke-width="1" />
<text x="392.20" y="371.20" font-size="11.2" text-anchor="end" fill="#1a1a1a">5</text>
<line x1="395.00" y1="345.00" x2="397.70" y2="345.00" stroke="#7a7a7a" stroke-width="1" />
<text x="392.20" y="348.00" font-size="11.2" text-anchor="end" fill="#1a1a1a">6</text>
<line x1="395.00" y1="321.80" x2="397.70" y2="321.80" stroke="#7a7a7a" stroke-width="1" />
<text x="392.20" y="324.80" font-size="11.2" text-anchor="end" fill="#1a1a1a">7</text>
<line x1="395.00" y1="298.60" x2="397.70" y2="298.60" stroke="#7a7a7a" stroke-width="1" />
<text x="392.20" y="301.60" font-size="11.2" text-anchor="end" fill="#1a1a1a">8</text>
<line x1="395.00" y1="275.40" x2="397.70" y2="275.40" stroke="#7a7a7a" stroke-width="1" />
<text x="392.20" y="278.40" font-size="11.2" text-anchor="end" fill="#1a1a1a">9</text>
<line x1="402.40" y1="484.20" x2="402.40" y2="486.50" stroke="#7a7a7a" stroke-width="1" />
<text x="402.40" y="495.80" font-size="11.2" text-anchor="middle" fill="#1a1a1a">-8</text>
<line x1="425.20" y1="484.20" x2="425.20" y2="486.50" stroke="#7a7a7a" stroke-width="1" />
<text x="425.20" y="495.80" font-size="11.2" text-anchor="middle" fill="#1a1a1a">-6</text>
<line x1="448.00" y1="484.20" x2="448.00" y2="486.50" stroke="#7a7a7a" stroke-width="1" />
<text x="448.00" y="495.80" font-size="11.2" text-anchor="middle" fill="#1a1a1a">-4</text>
<line x1="470.80" y1="484.20" x2="470.80" y2="486.50" stroke="#7a7a7a" stroke-width="1" />
<text x="470.80" y="495.80" font-size="11.2" text-anchor="middle" fill="#1a1a1a">-2</text>
<line x1="493.60" y1="484.20" x2="493.60" y2="486.50" stroke="#7a7a7a" stroke-width="1" />
<text x="493.60" y="495.80" font-size="11.2" text-anchor="middle" fill="#1a1a1a">0</text>
<line x1="516.40" y1="484.20" x2="516.40" y2="486.50" stroke="#7a7a7a" stroke-width="1" />
<text x="516.40" y="495.80" font-size="11.2" text-anchor="middle" fill="#1a1a1a">2</text>
<line x1="539.20" y1="484.20" x2="539.20" y2="486.50" stroke="#7a7a7a" stroke-width="1" />
<text x="539.20" y="495.80" font-size="11.2" text-anchor="middle" fill="#1a1a1a">4</text>
<line x1="562.00" y1="484.20" x2="562.00" y2="486.50" stroke="#7a7a7a" stroke-width="1" />
<text x="562.00" y="495.80" font-size="11.2" text-anchor="middle" fill="#1a1a1a">6</text>
<line x1="584.80" y1="484.20" x2="584.80" y2="486.50" stroke="#7a7a7a" stroke-width="1" />
<text x="584.80" y="495.80" font-size="11.2" text-anchor="middle" fill="#1a1a1a">8</text>
<line x1="607.60" y1="484.20" x2="607.60" y2="486.50" stroke="#7a7a7a" stroke-width="1" />
<text x="607.60" y="495.80" font-size="11.2" text-anchor="middle" fill="#1a1a1a">10</text>
<text x="502.10" y="509.00" font-size="11.2" text-anchor="middle" fill="#1a1a1a">Log2 FC</text>
<text x="514.70" y="265.60" font-size="11.2" text-anchor="middle" fill="#1a1a1a">HR_vs_HS.volcano</text>
<text transform="translate(380.6,367.2) rotate(-90)" font-size="11.2" text-anchor="middle" fill="#1a1a1a">-Log10 (<tspan font-style="italic">P</tspan> value)</text>
<line x1="402.00" y1="454.02" x2="607.00" y2="454.02" stroke="#888" stroke-width="1" stroke-dasharray="1.2,1.6"/>
<line x1="493.60" y1="275.40" x2="493.60" y2="484.20" stroke="#444" stroke-width="0.9" stroke-dasharray="1.5,1.5"/>
<circle cx="497.95" cy="467.77" r="0.8" fill="#4DBBD5"/>
<circle cx="476.26" cy="463.82" r="0.8" fill="#4DBBD5"/>
<circle cx="499.33" cy="466.90" r="0.8" fill="#4DBBD5"/>
<circle cx="493.54" cy="479.04" r="0.8" fill="#4DBBD5"/>
<circle cx="500.39" cy="457.58" r="0.8" fill="#4DBBD5"/>
<circle cx="496.15" cy="481.20" r="0.8" fill="#4DBBD5"/>
<circle cx="496.65" cy="481.96" r="0.8" fill="#4DBBD5"/>
<circle cx="498.64" cy="479.99" r="0.8" fill="#4DBBD5"/>
<circle cx="507.54" cy="459.16" r="0.8" fill="#4DBBD5"/>
<circle cx="499.71" cy="470.48" r="0.8" fill="#4DBBD5"/>
<circle cx="490.60" cy="480.11" r="0.8" fill="#4DBBD5"/>
<circle cx="482.97" cy="458.39" r="0.8" fill="#4DBBD5"/>
<circle cx="488.18" cy="481.05" r="0.8" fill="#4DBBD5"/>
<circle cx="484.27" cy="477.57" r="0.8" fill="#4DBBD5"/>
<circle cx="482.25" cy="461.08" r="0.8" fill="#4DBBD5"/>
<circle cx="497.46" cy="472.30" r="0.8" fill="#4DBBD5"/>
<circle cx="497.35" cy="483.37" r="0.8" fill="#4DBBD5"/>
<circle cx="500.31" cy="460.15" r="0.8" fill="#4DBBD5"/>
<circle cx="494.63" cy="475.74" r="0.8" fill="#4DBBD5"/>
<circle cx="499.70" cy="456.16" r="0.8" fill="#4DBBD5"/>
<circle cx="482.04" cy="456.64" r="0.8" fill="#4DBBD5"/>
<circle cx="500.89" cy="470.94" r="0.8" fill="#4DBBD5"/>
<circle cx="502.05" cy="461.83" r="0.8" fill="#4DBBD5"/>
<circle cx="496.76" cy="468.16" r="0.8" fill="#4DBBD5"/>
<circle cx="490.16" cy="476.49" r="0.8" fill="#4DBBD5"/>
<circle cx="485.37" cy="477.14" r="0.8" fill="#4DBBD5"/>
<circle cx="492.92" cy="481.45" r="0.8" fill="#4DBBD5"/>
<circle cx="467.01" cy="454.63" r="0.8" fill="#4DBBD5"/>
<circle cx="483.77" cy="455.00" r="0.8" fill="#4DBBD5"/>
<circle cx="495.32" cy="479.28" r="0.8" fill="#4DBBD5"/>
<circle cx="500.05" cy="474.11" r="0.8" fill="#4DBBD5"/>
<circle cx="490.98" cy="481.87" r="0.8" fill="#4DBBD5"/>
<circle cx="492.31" cy="481.45" r="0.8" fill="#4DBBD5"/>
<circle cx="499.95" cy="477.75" r="0.8" fill="#4DBBD5"/>
<circle cx="484.04" cy="459.88" r="0.8" fill="#4DBBD5"/>
<circle cx="482.76" cy="464.18" r="0.8" fill="#4DBBD5"/>
<circle cx="489.32" cy="474.64" r="0.8" fill="#4DBBD5"/>
<circle cx="496.92" cy="454.93" r="0.8" fill="#4DBBD5"/>
<circle cx="481.55" cy="471.74" r="0.8" fill="#4DBBD5"/>
<circle cx="495.91" cy="478.36" r="0.8" fill="#4DBBD5"/>
<circle cx="488.00" cy="462.22" r="0.8" fill="#4DBBD5"/>
<circle cx="494.01" cy="465.37" r="0.8" fill="#4DBBD5"/>
<circle cx="489.49" cy="465.03" r="0.8" fill="#4DBBD5"/>
<circle cx="486.16" cy="462.79" r="0.8" fill="#4DBBD5"/>
<circle cx="490.66" cy="477.78" r="0.8" fill="#4DBBD5"/>
<circle cx="499.98" cy="466.14" r="0.8" fill="#4DBBD5"/>
<circle cx="486.45" cy="466.95" r="0.8" fill="#4DBBD5"/>
<circle cx="493.00" cy="476.27" r="0.8" fill="#4DBBD5"/>
<circle cx="485.72" cy="476.20" r="0.8" fill="#4DBBD5"/>
<circle cx="492.51" cy="481.05" r="0.8" fill="#4DBBD5"/>
<circle cx="496.79" cy="456.81" r="0.8" fill="#4DBBD5"/>
<circle cx="499.24" cy="464.15" r="0.8" fill="#4DBBD5"/>
<circle cx="486.08" cy="469.14" r="0.8" fill="#4DBBD5"/>
<circle cx="498.86" cy="462.62" r="0.8" fill="#4DBBD5"/>
<circle cx="478.55" cy="464.49" r="0.8" fill="#4DBBD5"/>
<circle cx="495.05" cy="473.53" r="0.8" fill="#4DBBD5"/>
<circle cx="489.58" cy="467.50" r="0.8" fill="#4DBBD5"/>
<circle cx="487.91" cy="479.57" r="0.8" fill="#4DBBD5"/>
<circle cx="487.22" cy="477.13" r="0.8" fill="#4DBBD5"/>
<circle cx="503.15" cy="468.13" r="0.8" fill="#4DBBD5"/>
<circle cx="497.05" cy="479.27" r="0.8" fill="#4DBBD5"/>
<circle cx="486.71" cy="478.19" r="0.8" fill="#4DBBD5"/>
<circle cx="471.30" cy="460.63" r="0.8" fill="#4DBBD5"/>
<circle cx="491.80" cy="468.07" r="0.8" fill="#4DBBD5"/>
<circle cx="493.62" cy="476.51" r="0.8" fill="#4DBBD5"/>
<circle cx="478.14" cy="456.04" r="0.8" fill="#4DBBD5"/>
<circle cx="479.72" cy="467.12" r="0.8" fill="#4DBBD5"/>
<circle cx="499.17" cy="468.65" r="0.8" fill="#4DBBD5"/>
<circle cx="486.63" cy="456.08" r="0.8" fill="#4DBBD5"/>
<circle cx="472.47" cy="458.40" r="0.8" fill="#4DBBD5"/>
<circle cx="490.09" cy="469.63" r="0.8" fill="#4DBBD5"/>
<circle cx="495.67" cy="481.64" r="0.8" fill="#4DBBD5"/>
<circle cx="487.26" cy="473.81" r="0.8" fill="#4DBBD5"/>
<circle cx="509.12" cy="455.52" r="0.8" fill="#4DBBD5"/>
<circle cx="487.95" cy="457.67" r="0.8" fill="#4DBBD5"/>
<circle cx="489.93" cy="478.69" r="0.8" fill="#4DBBD5"/>
<circle cx="493.70" cy="477.08" r="0.8" fill="#4DBBD5"/>
<circle cx="490.70" cy="471.97" r="0.8" fill="#4DBBD5"/>
<circle cx="491.55" cy="482.06" r="0.8" fill="#4DBBD5"/>
<circle cx="495.90" cy="462.37" r="0.8" fill="#4DBBD5"/>
<circle cx="498.88" cy="467.04" r="0.8" fill="#4DBBD5"/>
<circle cx="498.64" cy="463.70" r="0.8" fill="#4DBBD5"/>
<circle cx="489.72" cy="477.59" r="0.8" fill="#4DBBD5"/>
<circle cx="491.74" cy="477.69" r="0.8" fill="#4DBBD5"/>
<circle cx="492.61" cy="475.89" r="0.8" fill="#4DBBD5"/>
<circle cx="498.25" cy="478.89" r="0.8" fill="#4DBBD5"/>
<circle cx="468.77" cy="458.60" r="0.8" fill="#4DBBD5"/>
<circle cx="492.20" cy="462.49" r="0.8" fill="#4DBBD5"/>
<circle cx="502.44" cy="467.46" r="0.8" fill="#4DBBD5"/>
<circle cx="498.44" cy="475.18" r="0.8" fill="#4DBBD5"/>
<circle cx="496.68" cy="480.32" r="0.8" fill="#4DBBD5"/>
<circle cx="493.26" cy="483.21" r="0.8" fill="#4DBBD5"/>
<circle cx="483.17" cy="465.37" r="0.8" fill="#4DBBD5"/>
<circle cx="499.26" cy="462.41" r="0.8" fill="#4DBBD5"/>
<circle cx="486.57" cy="470.16" r="0.8" fill="#4DBBD5"/>
<circle cx="496.12" cy="481.35" r="0.8" fill="#4DBBD5"/>
<circle cx="479.14" cy="461.32" r="0.8" fill="#4DBBD5"/>
<circle cx="492.62" cy="461.04" r="0.8" fill="#4DBBD5"/>
<circle cx="491.68" cy="455.29" r="0.8" fill="#4DBBD5"/>
<circle cx="494.22" cy="483.52" r="0.8" fill="#4DBBD5"/>
<circle cx="507.17" cy="456.27" r="0.8" fill="#4DBBD5"/>
<circle cx="497.17" cy="481.78" r="0.8" fill="#4DBBD5"/>
<circle cx="492.18" cy="481.43" r="0.8" fill="#4DBBD5"/>
<circle cx="479.18" cy="467.78" r="0.8" fill="#4DBBD5"/>
<circle cx="483.65" cy="475.36" r="0.8" fill="#4DBBD5"/>
<circle cx="495.45" cy="469.32" r="0.8" fill="#4DBBD5"/>
<circle cx="486.05" cy="458.94" r="0.8" fill="#4DBBD5"/>
<circle cx="484.31" cy="477.20" r="0.8" fill="#4DBBD5"/>
<circle cx="495.51" cy="475.51" r="0.8" fill="#4DBBD5"/>
<circle cx="494.03" cy="481.40" r="0.8" fill="#4DBBD5"/>
<circle cx="486.42" cy="471.53" r="0.8" fill="#4DBBD5"/>
<circle cx="491.92" cy="478.60" r="0.8" fill="#4DBBD5"/>
<circle cx="491.73" cy="478.84" r="0.8" fill="#4DBBD5"/>
<circle cx="495.71" cy="479.36" r="0.8" fill="#4DBBD5"/>
<circle cx="493.43" cy="480.73" r="0.8" fill="#4DBBD5"/>
<circle cx="495.34" cy="466.70" r="0.8" fill="#4DBBD5"/>
<circle cx="494.02" cy="482.71" r="0.8" fill="#4DBBD5"/>
<circle cx="490.63" cy="479.25" r="0.8" fill="#4DBBD5"/>
<circle cx="497.65" cy="461.86" r="0.8" fill="#4DBBD5"/>
<circle cx="496.80" cy="483.43" r="0.8" fill="#4DBBD5"/>
<circle cx="478.03" cy="465.83" r="0.8" fill="#4DBBD5"/>
<circle cx="494.66" cy="455.51" r="0.8" fill="#4DBBD5"/>
<circle cx="492.38" cy="481.66" r="0.8" fill="#4DBBD5"/>
<circle cx="495.97" cy="476.68" r="0.8" fill="#4DBBD5"/>
<circle cx="485.71" cy="476.24" r="0.8" fill="#4DBBD5"/>
<circle cx="496.61" cy="460.64" r="0.8" fill="#4DBBD5"/>
<circle cx="488.00" cy="471.17" r="0.8" fill="#4DBBD5"/>
<circle cx="491.43" cy="469.39" r="0.8" fill="#4DBBD5"/>
<circle cx="499.50" cy="458.56" r="0.8" fill="#4DBBD5"/>
<circle cx="489.49" cy="467.88" r="0.8" fill="#4DBBD5"/>
<circle cx="490.16" cy="482.54" r="0.8" fill="#4DBBD5"/>
<circle cx="498.87" cy="475.50" r="0.8" fill="#4DBBD5"/>
<circle cx="490.65" cy="481.38" r="0.8" fill="#4DBBD5"/>
<circle cx="490.09" cy="481.16" r="0.8" fill="#4DBBD5"/>
<circle cx="500.94" cy="472.27" r="0.8" fill="#4DBBD5"/>
<circle cx="494.80" cy="475.66" r="0.8" fill="#4DBBD5"/>
<circle cx="476.80" cy="465.60" r="0.8" fill="#4DBBD5"/>
<circle cx="494.71" cy="482.15" r="0.8" fill="#4DBBD5"/>
<circle cx="493.31" cy="477.85" r="0.8" fill="#4DBBD5"/>
<circle cx="489.51" cy="480.20" r="0.8" fill="#4DBBD5"/>
<circle cx="497.18" cy="482.97" r="0.8" fill="#4DBBD5"/>
<circle cx="491.36" cy="475.80" r="0.8" fill="#4DBBD5"/>
<circle cx="491.40" cy="478.07" r="0.8" fill="#4DBBD5"/>
<circle cx="481.27" cy="464.58" r="0.8" fill="#4DBBD5"/>
<circle cx="489.12" cy="466.13" r="0.8" fill="#4DBBD5"/>
<circle cx="468.20" cy="455.41" r="0.8" fill="#4DBBD5"/>
<circle cx="473.10" cy="462.46" r="0.8" fill="#4DBBD5"/>
<circle cx="488.68" cy="470.19" r="0.8" fill="#4DBBD5"/>
<circle cx="481.21" cy="471.12" r="0.8" fill="#4DBBD5"/>
<circle cx="489.68" cy="483.11" r="0.8" fill="#4DBBD5"/>
<circle cx="491.17" cy="479.12" r="0.8" fill="#4DBBD5"/>
<circle cx="492.60" cy="483.32" r="0.8" fill="#4DBBD5"/>
<circle cx="484.96" cy="477.44" r="0.8" fill="#4DBBD5"/>
<circle cx="486.39" cy="470.73" r="0.8" fill="#4DBBD5"/>
<circle cx="496.98" cy="482.36" r="0.8" fill="#4DBBD5"/>
<circle cx="494.42" cy="468.57" r="0.8" fill="#4DBBD5"/>
<circle cx="493.18" cy="479.87" r="0.8" fill="#4DBBD5"/>
<circle cx="488.28" cy="472.13" r="0.8" fill="#4DBBD5"/>
<circle cx="500.88" cy="464.31" r="0.8" fill="#4DBBD5"/>
<circle cx="497.39" cy="477.40" r="0.8" fill="#4DBBD5"/>
<circle cx="490.23" cy="479.62" r="0.8" fill="#4DBBD5"/>
<circle cx="494.49" cy="482.78" r="0.8" fill="#4DBBD5"/>
<circle cx="490.57" cy="481.89" r="0.8" fill="#4DBBD5"/>
<circle cx="493.89" cy="482.85" r="0.8" fill="#4DBBD5"/>
<circle cx="495.26" cy="479.07" r="0.8" fill="#4DBBD5"/>
<circle cx="491.76" cy="483.53" r="0.8" fill="#4DBBD5"/>
<circle cx="490.43" cy="475.52" r="0.8" fill="#4DBBD5"/>
<circle cx="490.51" cy="477.22" r="0.8" fill="#4DBBD5"/>
<circle cx="487.95" cy="469.94" r="0.8" fill="#4DBBD5"/>
<circle cx="499.20" cy="469.34" r="0.8" fill="#4DBBD5"/>
<circle cx="484.16" cy="466.69" r="0.8" fill="#4DBBD5"/>
<circle cx="492.09" cy="464.23" r="0.8" fill="#4DBBD5"/>
<circle cx="483.73" cy="475.27" r="0.8" fill="#4DBBD5"/>
<circle cx="494.82" cy="480.97" r="0.8" fill="#4DBBD5"/>
<circle cx="496.30" cy="478.00" r="0.8" fill="#4DBBD5"/>
<circle cx="479.20" cy="469.90" r="0.8" fill="#4DBBD5"/>
<circle cx="496.57" cy="481.88" r="0.8" fill="#4DBBD5"/>
<circle cx="510.99" cy="456.38" r="0.8" fill="#4DBBD5"/>
<circle cx="490.81" cy="479.44" r="0.8" fill="#4DBBD5"/>
<circle cx="493.52" cy="476.76" r="0.8" fill="#4DBBD5"/>
<circle cx="502.11" cy="460.78" r="0.8" fill="#4DBBD5"/>
<circle cx="495.63" cy="480.93" r="0.8" fill="#4DBBD5"/>
<circle cx="494.29" cy="473.37" r="0.8" fill="#4DBBD5"/>
<circle cx="491.69" cy="477.13" r="0.8" fill="#4DBBD5"/>
<circle cx="490.13" cy="472.92" r="0.8" fill="#4DBBD5"/>
<circle cx="473.36" cy="462.87" r="0.8" fill="#4DBBD5"/>
<circle cx="499.30" cy="468.65" r="0.8" fill="#4DBBD5"/>
<circle cx="501.27" cy="474.18" r="0.8" fill="#4DBBD5"/>
<circle cx="490.73" cy="472.27" r="0.8" fill="#4DBBD5"/>
<circle cx="493.30" cy="478.23" r="0.8" fill="#4DBBD5"/>
<circle cx="495.46" cy="476.01" r="0.8" fill="#4DBBD5"/>
<circle cx="489.18" cy="479.17" r="0.8" fill="#4DBBD5"/>
<circle cx="501.66" cy="455.16" r="0.8" fill="#4DBBD5"/>
<circle cx="498.18" cy="474.73" r="0.8" fill="#4DBBD5"/>
<circle cx="483.62" cy="472.02" r="0.8" fill="#4DBBD5"/>
<circle cx="490.80" cy="482.56" r="0.8" fill="#4DBBD5"/>
<circle cx="501.10" cy="458.16" r="0.8" fill="#4DBBD5"/>
<circle cx="497.26" cy="476.94" r="0.8" fill="#4DBBD5"/>
<circle cx="471.22" cy="461.72" r="0.8" fill="#4DBBD5"/>
<circle cx="487.75" cy="471.35" r="0.8" fill="#4DBBD5"/>
<circle cx="490.73" cy="480.60" r="0.8" fill="#4DBBD5"/>
<circle cx="481.63" cy="472.46" r="0.8" fill="#4DBBD5"/>
<circle cx="507.53" cy="461.19" r="0.8" fill="#4DBBD5"/>
<circle cx="481.18" cy="465.43" r="0.8" fill="#4DBBD5"/>
<circle cx="491.83" cy="475.84" r="0.8" fill="#4DBBD5"/>
<circle cx="483.34" cy="465.88" r="0.8" fill="#4DBBD5"/>
<circle cx="492.07" cy="482.98" r="0.8" fill="#4DBBD5"/>
<circle cx="492.44" cy="469.16" r="0.8" fill="#4DBBD5"/>
<circle cx="487.18" cy="463.36" r="0.8" fill="#4DBBD5"/>
<circle cx="486.57" cy="456.09" r="0.8" fill="#4DBBD5"/>
<circle cx="480.28" cy="463.87" r="0.8" fill="#4DBBD5"/>
<circle cx="497.58" cy="480.01" r="0.8" fill="#4DBBD5"/>
<circle cx="490.34" cy="479.24" r="0.8" fill="#4DBBD5"/>
<circle cx="491.76" cy="466.77" r="0.8" fill="#4DBBD5"/>
<circle cx="490.26" cy="457.80" r="0.8" fill="#4DBBD5"/>
<circle cx="495.45" cy="470.03" r="0.8" fill="#4DBBD5"/>
<circle cx="494.47" cy="475.51" r="0.8" fill="#4DBBD5"/>
<circle cx="496.59" cy="478.48" r="0.8" fill="#4DBBD5"/>
<circle cx="494.24" cy="458.27" r="0.8" fill="#4DBBD5"/>
<circle cx="493.48" cy="479.61" r="0.8" fill="#4DBBD5"/>
<circle cx="487.77" cy="470.81" r="0.8" fill="#4DBBD5"/>
<circle cx="493.90" cy="477.54" r="0.8" fill="#4DBBD5"/>
<circle cx="467.08" cy="455.74" r="0.8" fill="#4DBBD5"/>
<circle cx="492.28" cy="482.20" r="0.8" fill="#4DBBD5"/>
<circle cx="492.42" cy="480.47" r="0.8" fill="#4DBBD5"/>
<circle cx="493.28" cy="466.99" r="0.8" fill="#4DBBD5"/>
<circle cx="491.73" cy="472.19" r="0.8" fill="#4DBBD5"/>
<circle cx="503.93" cy="456.08" r="0.8" fill="#4DBBD5"/>
<circle cx="494.96" cy="467.03" r="0.8" fill="#4DBBD5"/>
<circle cx="473.55" cy="460.29" r="0.8" fill="#4DBBD5"/>
<circle cx="487.99" cy="480.39" r="0.8" fill="#4DBBD5"/>
<circle cx="497.91" cy="481.38" r="0.8" fill="#4DBBD5"/>
<circle cx="493.20" cy="482.43" r="0.8" fill="#4DBBD5"/>
<circle cx="478.63" cy="461.60" r="0.8" fill="#4DBBD5"/>
<circle cx="476.53" cy="457.29" r="0.8" fill="#4DBBD5"/>
<circle cx="489.26" cy="482.46" r="0.8" fill="#4DBBD5"/>
<circle cx="492.22" cy="480.07" r="0.8" fill="#4DBBD5"/>
<circle cx="480.75" cy="465.85" r="0.8" fill="#4DBBD5"/>
<circle cx="493.61" cy="482.86" r="0.8" fill="#4DBBD5"/>
<circle cx="493.67" cy="475.48" r="0.8" fill="#4DBBD5"/>
<circle cx="482.31" cy="475.50" r="0.8" fill="#4DBBD5"/>
<circle cx="499.82" cy="456.53" r="0.8" fill="#4DBBD5"/>
<circle cx="491.97" cy="477.72" r="0.8" fill="#4DBBD5"/>
<circle cx="493.91" cy="476.09" r="0.8" fill="#4DBBD5"/>
<circle cx="479.63" cy="457.50" r="0.8" fill="#4DBBD5"/>
<circle cx="495.32" cy="471.75" r="0.8" fill="#4DBBD5"/>
<circle cx="497.64" cy="477.72" r="0.8" fill="#4DBBD5"/>
<circle cx="489.15" cy="471.11" r="0.8" fill="#4DBBD5"/>
<circle cx="489.30" cy="479.27" r="0.8" fill="#4DBBD5"/>
<circle cx="489.99" cy="483.07" r="0.8" fill="#4DBBD5"/>
<circle cx="488.60" cy="472.41" r="0.8" fill="#4DBBD5"/>
<circle cx="482.20" cy="456.94" r="0.8" fill="#4DBBD5"/>
<circle cx="499.24" cy="461.35" r="0.8" fill="#4DBBD5"/>
<circle cx="487.51" cy="475.89" r="0.8" fill="#4DBBD5"/>
<circle cx="491.79" cy="473.00" r="0.8" fill="#4DBBD5"/>
<circle cx="496.97" cy="483.44" r="0.8" fill="#4DBBD5"/>
<circle cx="482.76" cy="473.48" r="0.8" fill="#4DBBD5"/>
<circle cx="492.67" cy="478.17" r="0.8" fill="#4DBBD5"/>
<circle cx="475.89" cy="465.62" r="0.8" fill="#4DBBD5"/>
<circle cx="488.01" cy="474.97" r="0.8" fill="#4DBBD5"/>
<circle cx="498.48" cy="458.08" r="0.8" fill="#4DBBD5"/>
<circle cx="498.39" cy="474.36" r="0.8" fill="#4DBBD5"/>
<circle cx="484.84" cy="475.38" r="0.8" fill="#4DBBD5"/>
<circle cx="501.62" cy="463.26" r="0.8" fill="#4DBBD5"/>
<circle cx="500.29" cy="474.10" r="0.8" fill="#4DBBD5"/>
<circle cx="484.40" cy="454.72" r="0.8" fill="#4DBBD5"/>
<circle cx="489.33" cy="478.40" r="0.8" fill="#4DBBD5"/>
<circle cx="480.01" cy="466.32" r="0.8" fill="#4DBBD5"/>
<circle cx="488.85" cy="473.02" r="0.8" fill="#4DBBD5"/>
<circle cx="494.18" cy="458.26" r="0.8" fill="#4DBBD5"/>
<circle cx="494.38" cy="479.30" r="0.8" fill="#4DBBD5"/>
<circle cx="490.15" cy="480.60" r="0.8" fill="#4DBBD5"/>
<circle cx="499.22" cy="463.34" r="0.8" fill="#4DBBD5"/>
<circle cx="497.92" cy="481.38" r="0.8" fill="#4DBBD5"/>
<circle cx="477.37" cy="465.12" r="0.8" fill="#4DBBD5"/>
<circle cx="486.43" cy="467.08" r="0.8" fill="#4DBBD5"/>
<circle cx="493.10" cy="472.41" r="0.8" fill="#4DBBD5"/>
<circle cx="498.05" cy="470.28" r="0.8" fill="#4DBBD5"/>
<circle cx="498.78" cy="464.99" r="0.8" fill="#4DBBD5"/>
<circle cx="493.87" cy="474.19" r="0.8" fill="#4DBBD5"/>
<circle cx="489.41" cy="461.98" r="0.8" fill="#4DBBD5"/>
<circle cx="499.38" cy="466.71" r="0.8" fill="#4DBBD5"/>
<circle cx="495.79" cy="475.62" r="0.8" fill="#4DBBD5"/>
<circle cx="501.59" cy="456.81" r="0.8" fill="#4DBBD5"/>
<circle cx="493.41" cy="481.04" r="0.8" fill="#4DBBD5"/>
<circle cx="495.21" cy="482.99" r="0.8" fill="#4DBBD5"/>
<circle cx="501.51" cy="470.81" r="0.8" fill="#4DBBD5"/>
<circle cx="494.60" cy="477.63" r="0.8" fill="#4DBBD5"/>
<circle cx="493.16" cy="476.18" r="0.8" fill="#4DBBD5"/>
<circle cx="487.34" cy="480.04" r="0.8" fill="#4DBBD5"/>
<circle cx="490.18" cy="482.78" r="0.8" fill="#4DBBD5"/>
<circle cx="478.12" cy="455.70" r="0.8" fill="#4DBBD5"/>
<circle cx="489.79" cy="462.30" r="0.8" fill="#4DBBD5"/>
<circle cx="491.12" cy="478.63" r="0.8" fill="#4DBBD5"/>
<circle cx="483.54" cy="467.57" r="0.8" fill="#4DBBD5"/>
<circle cx="504.99" cy="459.01" r="0.8" fill="#4DBBD5"/>
<circle cx="487.83" cy="480.79" r="0.8" fill="#4DBBD5"/>
<circle cx="488.27" cy="463.83" r="0.8" fill="#4DBBD5"/>
<circle cx="500.55" cy="471.89" r="0.8" fill="#4DBBD5"/>
<circle cx="494.46" cy="482.16" r="0.8" fill="#4DBBD5"/>
<circle cx="496.37" cy="468.15" r="0.8" fill="#4DBBD5"/>
<circle cx="494.83" cy="482.30" r="0.8" fill="#4DBBD5"/>
<circle cx="492.86" cy="482.68" r="0.8" fill="#4DBBD5"/>
<circle cx="496.92" cy="466.91" r="0.8" fill="#4DBBD5"/>
<circle cx="494.26" cy="483.14" r="0.8" fill="#4DBBD5"/>
<circle cx="482.62" cy="463.32" r="0.8" fill="#4DBBD5"/>
<circle cx="490.44" cy="471.22" r="0.8" fill="#4DBBD5"/>
<circle cx="498.28" cy="479.82" r="0.8" fill="#4DBBD5"/>
<circle cx="490.94" cy="480.10" r="0.8" fill="#4DBBD5"/>
<circle cx="494.27" cy="482.95" r="0.8" fill="#4DBBD5"/>
<circle cx="479.43" cy="466.85" r="0.8" fill="#4DBBD5"/>
<circle cx="494.27" cy="471.99" r="0.8" fill="#4DBBD5"/>
<circle cx="495.98" cy="473.34" r="0.8" fill="#4DBBD5"/>
<circle cx="492.95" cy="478.48" r="0.8" fill="#4DBBD5"/>
<circle cx="490.93" cy="458.16" r="0.8" fill="#4DBBD5"/>
<circle cx="495.64" cy="474.17" r="0.8" fill="#4DBBD5"/>
<circle cx="491.85" cy="482.37" r="0.8" fill="#4DBBD5"/>
<circle cx="494.10" cy="458.54" r="0.8" fill="#4DBBD5"/>
<circle cx="500.34" cy="456.12" r="0.8" fill="#4DBBD5"/>
<circle cx="494.31" cy="476.59" r="0.8" fill="#4DBBD5"/>
<circle cx="487.49" cy="460.16" r="0.8" fill="#4DBBD5"/>
<circle cx="491.22" cy="483.50" r="0.8" fill="#4DBBD5"/>
<circle cx="486.77" cy="464.37" r="0.8" fill="#4DBBD5"/>
<circle cx="484.88" cy="476.79" r="0.8" fill="#4DBBD5"/>
<circle cx="502.11" cy="464.61" r="0.8" fill="#4DBBD5"/>
<circle cx="490.80" cy="483.27" r="0.8" fill="#4DBBD5"/>
<circle cx="502.60" cy="456.59" r="0.8" fill="#4DBBD5"/>
<circle cx="472.24" cy="458.30" r="0.8" fill="#4DBBD5"/>
<circle cx="482.18" cy="474.27" r="0.8" fill="#4DBBD5"/>
<circle cx="480.51" cy="469.65" r="0.8" fill="#4DBBD5"/>
<circle cx="499.44" cy="471.35" r="0.8" fill="#4DBBD5"/>
<circle cx="492.66" cy="482.47" r="0.8" fill="#4DBBD5"/>
<circle cx="489.25" cy="482.22" r="0.8" fill="#4DBBD5"/>
<circle cx="485.22" cy="454.98" r="0.8" fill="#4DBBD5"/>
<circle cx="497.38" cy="478.36" r="0.8" fill="#4DBBD5"/>
<circle cx="497.85" cy="480.00" r="0.8" fill="#4DBBD5"/>
<circle cx="492.80" cy="475.29" r="0.8" fill="#4DBBD5"/>
<circle cx="501.84" cy="457.49" r="0.8" fill="#4DBBD5"/>
<circle cx="479.98" cy="470.80" r="0.8" fill="#4DBBD5"/>
<circle cx="485.94" cy="456.75" r="0.8" fill="#4DBBD5"/>
<circle cx="486.03" cy="457.53" r="0.8" fill="#4DBBD5"/>
<circle cx="488.69" cy="463.68" r="0.8" fill="#4DBBD5"/>
<circle cx="493.41" cy="480.16" r="0.8" fill="#4DBBD5"/>
<circle cx="472.54" cy="454.60" r="0.8" fill="#4DBBD5"/>
<circle cx="494.24" cy="482.74" r="0.8" fill="#4DBBD5"/>
<circle cx="486.84" cy="469.16" r="0.8" fill="#4DBBD5"/>
<circle cx="492.56" cy="483.45" r="0.8" fill="#4DBBD5"/>
<circle cx="491.78" cy="482.05" r="0.8" fill="#4DBBD5"/>
<circle cx="501.40" cy="467.23" r="0.8" fill="#4DBBD5"/>
<circle cx="481.46" cy="457.46" r="0.8" fill="#4DBBD5"/>
<circle cx="485.59" cy="459.00" r="0.8" fill="#4DBBD5"/>
<circle cx="499.01" cy="474.32" r="0.8" fill="#4DBBD5"/>
<circle cx="493.79" cy="481.92" r="0.8" fill="#4DBBD5"/>
<circle cx="491.43" cy="477.26" r="0.8" fill="#4DBBD5"/>
<circle cx="486.07" cy="460.40" r="0.8" fill="#4DBBD5"/>
<circle cx="487.08" cy="476.49" r="0.8" fill="#4DBBD5"/>
<circle cx="493.27" cy="468.05" r="0.8" fill="#4DBBD5"/>
<circle cx="487.62" cy="481.21" r="0.8" fill="#4DBBD5"/>
<circle cx="484.59" cy="472.38" r="0.8" fill="#4DBBD5"/>
<circle cx="484.54" cy="460.71" r="0.8" fill="#4DBBD5"/>
<circle cx="486.27" cy="479.50" r="0.8" fill="#4DBBD5"/>
<circle cx="500.07" cy="466.65" r="0.8" fill="#4DBBD5"/>
<circle cx="487.47" cy="463.70" r="0.8" fill="#4DBBD5"/>
<circle cx="489.95" cy="477.43" r="0.8" fill="#4DBBD5"/>
<circle cx="496.13" cy="463.21" r="0.8" fill="#4DBBD5"/>
<circle cx="495.99" cy="483.29" r="0.8" fill="#4DBBD5"/>
<circle cx="488.00" cy="481.49" r="0.8" fill="#4DBBD5"/>
<circle cx="488.08" cy="462.92" r="0.8" fill="#4DBBD5"/>
<circle cx="498.35" cy="473.61" r="0.8" fill="#4DBBD5"/>
<circle cx="480.63" cy="472.44" r="0.8" fill="#4DBBD5"/>
<circle cx="482.66" cy="461.90" r="0.8" fill="#4DBBD5"/>
<circle cx="485.07" cy="468.06" r="0.8" fill="#4DBBD5"/>
<circle cx="508.31" cy="459.93" r="0.8" fill="#4DBBD5"/>
<circle cx="490.82" cy="480.20" r="0.8" fill="#4DBBD5"/>
<circle cx="489.53" cy="482.53" r="0.8" fill="#4DBBD5"/>
<circle cx="491.76" cy="479.72" r="0.8" fill="#4DBBD5"/>
<circle cx="494.61" cy="477.61" r="0.8" fill="#4DBBD5"/>
<circle cx="500.39" cy="475.08" r="0.8" fill="#4DBBD5"/>
<circle cx="490.82" cy="474.50" r="0.8" fill="#4DBBD5"/>
<circle cx="501.37" cy="462.86" r="0.8" fill="#4DBBD5"/>
<circle cx="495.01" cy="459.60" r="0.8" fill="#4DBBD5"/>
<circle cx="495.24" cy="461.98" r="0.8" fill="#4DBBD5"/>
<circle cx="475.62" cy="458.79" r="0.8" fill="#4DBBD5"/>
<circle cx="487.86" cy="473.46" r="0.8" fill="#4DBBD5"/>
<circle cx="493.88" cy="478.94" r="0.8" fill="#4DBBD5"/>
<circle cx="489.90" cy="470.66" r="0.8" fill="#4DBBD5"/>
<circle cx="493.83" cy="475.76" r="0.8" fill="#4DBBD5"/>
<circle cx="488.15" cy="475.85" r="0.8" fill="#4DBBD5"/>
<circle cx="493.61" cy="482.43" r="0.8" fill="#4DBBD5"/>
<circle cx="483.49" cy="456.06" r="0.8" fill="#4DBBD5"/>
<circle cx="489.15" cy="482.94" r="0.8" fill="#4DBBD5"/>
<circle cx="495.32" cy="483.35" r="0.8" fill="#4DBBD5"/>
<circle cx="482.41" cy="472.41" r="0.8" fill="#4DBBD5"/>
<circle cx="481.28" cy="468.26" r="0.8" fill="#4DBBD5"/>
<circle cx="498.20" cy="473.96" r="0.8" fill="#4DBBD5"/>
<circle cx="496.73" cy="479.48" r="0.8" fill="#4DBBD5"/>
<circle cx="491.02" cy="483.11" r="0.8" fill="#4DBBD5"/>
<circle cx="498.24" cy="466.36" r="0.8" fill="#4DBBD5"/>
<circle cx="491.78" cy="482.65" r="0.8" fill="#4DBBD5"/>
<circle cx="497.79" cy="459.73" r="0.8" fill="#4DBBD5"/>
<circle cx="496.97" cy="477.34" r="0.8" fill="#4DBBD5"/>
<circle cx="495.64" cy="482.89" r="0.8" fill="#4DBBD5"/>
<circle cx="504.33" cy="457.59" r="0.8" fill="#4DBBD5"/>
<circle cx="483.61" cy="472.66" r="0.8" fill="#4DBBD5"/>
<circle cx="486.07" cy="478.20" r="0.8" fill="#4DBBD5"/>
<circle cx="483.61" cy="466.05" r="0.8" fill="#4DBBD5"/>
<circle cx="496.93" cy="482.72" r="0.8" fill="#4DBBD5"/>
<circle cx="489.97" cy="477.83" r="0.8" fill="#4DBBD5"/>
<circle cx="481.46" cy="456.53" r="0.8" fill="#4DBBD5"/>
<circle cx="494.57" cy="480.00" r="0.8" fill="#4DBBD5"/>
<circle cx="499.33" cy="472.90" r="0.8" fill="#4DBBD5"/>
<circle cx="485.76" cy="476.83" r="0.8" fill="#4DBBD5"/>
<circle cx="491.67" cy="483.35" r="0.8" fill="#4DBBD5"/>
<circle cx="495.71" cy="478.57" r="0.8" fill="#4DBBD5"/>
<circle cx="491.33" cy="471.64" r="0.8" fill="#4DBBD5"/>
<circle cx="481.66" cy="460.11" r="0.8" fill="#4DBBD5"/>
<circle cx="488.41" cy="468.02" r="0.8" fill="#4DBBD5"/>
<circle cx="496.76" cy="481.84" r="0.8" fill="#4DBBD5"/>
<circle cx="493.87" cy="477.44" r="0.8" fill="#4DBBD5"/>
<circle cx="489.17" cy="468.83" r="0.8" fill="#4DBBD5"/>
<circle cx="476.52" cy="464.03" r="0.8" fill="#4DBBD5"/>
<circle cx="496.98" cy="463.29" r="0.8" fill="#4DBBD5"/>
<circle cx="494.31" cy="483.18" r="0.8" fill="#4DBBD5"/>
<circle cx="497.61" cy="478.03" r="0.8" fill="#4DBBD5"/>
<circle cx="495.00" cy="481.16" r="0.8" fill="#4DBBD5"/>
<circle cx="494.90" cy="471.40" r="0.8" fill="#4DBBD5"/>
<circle cx="491.57" cy="477.07" r="0.8" fill="#4DBBD5"/>
<circle cx="490.51" cy="482.29" r="0.8" fill="#4DBBD5"/>
<circle cx="505.69" cy="456.61" r="0.8" fill="#4DBBD5"/>
<circle cx="495.99" cy="475.04" r="0.8" fill="#4DBBD5"/>
<circle cx="491.08" cy="478.21" r="0.8" fill="#4DBBD5"/>
<circle cx="477.87" cy="457.01" r="0.8" fill="#4DBBD5"/>
<circle cx="493.73" cy="467.88" r="0.8" fill="#4DBBD5"/>
<circle cx="481.42" cy="473.12" r="0.8" fill="#4DBBD5"/>
<circle cx="500.01" cy="471.60" r="0.8" fill="#4DBBD5"/>
<circle cx="483.68" cy="462.48" r="0.8" fill="#4DBBD5"/>
<circle cx="502.82" cy="468.13" r="0.8" fill="#4DBBD5"/>
<circle cx="491.68" cy="483.58" r="0.8" fill="#4DBBD5"/>
<circle cx="484.25" cy="470.90" r="0.8" fill="#4DBBD5"/>
<circle cx="497.69" cy="482.06" r="0.8" fill="#4DBBD5"/>
<circle cx="485.27" cy="477.28" r="0.8" fill="#4DBBD5"/>
<circle cx="496.38" cy="482.32" r="0.8" fill="#4DBBD5"/>
<circle cx="500.37" cy="463.81" r="0.8" fill="#4DBBD5"/>
<circle cx="489.30" cy="478.82" r="0.8" fill="#4DBBD5"/>
<circle cx="495.05" cy="483.22" r="0.8" fill="#4DBBD5"/>
<circle cx="486.72" cy="471.99" r="0.8" fill="#4DBBD5"/>
<circle cx="480.70" cy="459.98" r="0.8" fill="#4DBBD5"/>
<circle cx="501.70" cy="464.18" r="0.8" fill="#4DBBD5"/>
<circle cx="490.59" cy="475.24" r="0.8" fill="#4DBBD5"/>
<circle cx="488.79" cy="478.09" r="0.8" fill="#4DBBD5"/>
<circle cx="482.32" cy="473.02" r="0.8" fill="#4DBBD5"/>
<circle cx="498.75" cy="479.02" r="0.8" fill="#4DBBD5"/>
<circle cx="493.35" cy="472.12" r="0.8" fill="#4DBBD5"/>
<circle cx="489.17" cy="476.99" r="0.8" fill="#4DBBD5"/>
<circle cx="484.77" cy="467.39" r="0.8" fill="#4DBBD5"/>
<circle cx="476.61" cy="462.06" r="0.8" fill="#4DBBD5"/>
<circle cx="487.66" cy="477.55" r="0.8" fill="#4DBBD5"/>
<circle cx="494.32" cy="466.39" r="0.8" fill="#4DBBD5"/>
<circle cx="495.85" cy="478.10" r="0.8" fill="#4DBBD5"/>
<circle cx="495.03" cy="482.13" r="0.8" fill="#4DBBD5"/>
<circle cx="502.34" cy="464.08" r="0.8" fill="#4DBBD5"/>
<circle cx="497.30" cy="467.56" r="0.8" fill="#4DBBD5"/>
<circle cx="482.45" cy="472.77" r="0.8" fill="#4DBBD5"/>
<circle cx="488.87" cy="463.76" r="0.8" fill="#4DBBD5"/>
<circle cx="495.32" cy="471.02" r="0.8" fill="#4DBBD5"/>
<circle cx="489.17" cy="477.55" r="0.8" fill="#4DBBD5"/>
<circle cx="491.74" cy="477.27" r="0.8" fill="#4DBBD5"/>
<circle cx="487.94" cy="468.48" r="0.8" fill="#4DBBD5"/>
<circle cx="493.64" cy="481.80" r="0.8" fill="#4DBBD5"/>
<circle cx="497.84" cy="480.36" r="0.8" fill="#4DBBD5"/>
<circle cx="497.37" cy="474.75" r="0.8" fill="#4DBBD5"/>
<circle cx="496.78" cy="465.36" r="0.8" fill="#4DBBD5"/>
<circle cx="478.65" cy="458.35" r="0.8" fill="#4DBBD5"/>
<circle cx="483.36" cy="472.33" r="0.8" fill="#4DBBD5"/>
<circle cx="485.13" cy="466.30" r="0.8" fill="#4DBBD5"/>
<circle cx="494.99" cy="462.76" r="0.8" fill="#4DBBD5"/>
<circle cx="490.66" cy="468.10" r="0.8" fill="#4DBBD5"/>
<circle cx="495.85" cy="466.46" r="0.8" fill="#4DBBD5"/>
<circle cx="488.72" cy="475.69" r="0.8" fill="#4DBBD5"/>
<circle cx="484.46" cy="457.24" r="0.8" fill="#4DBBD5"/>
<circle cx="494.82" cy="464.87" r="0.8" fill="#4DBBD5"/>
<circle cx="497.77" cy="467.85" r="0.8" fill="#4DBBD5"/>
<circle cx="492.94" cy="479.55" r="0.8" fill="#4DBBD5"/>
<circle cx="503.73" cy="464.43" r="0.8" fill="#4DBBD5"/>
<circle cx="487.35" cy="472.70" r="0.8" fill="#4DBBD5"/>
<circle cx="497.98" cy="454.82" r="0.8" fill="#4DBBD5"/>
<circle cx="494.70" cy="482.85" r="0.8" fill="#4DBBD5"/>
<circle cx="499.00" cy="466.81" r="0.8" fill="#4DBBD5"/>
<circle cx="488.42" cy="459.61" r="0.8" fill="#4DBBD5"/>
<circle cx="504.79" cy="468.01" r="0.8" fill="#4DBBD5"/>
<circle cx="486.34" cy="460.73" r="0.8" fill="#4DBBD5"/>
<circle cx="489.31" cy="457.68" r="0.8" fill="#4DBBD5"/>
<circle cx="487.66" cy="476.67" r="0.8" fill="#4DBBD5"/>
<circle cx="491.66" cy="467.28" r="0.8" fill="#4DBBD5"/>
<circle cx="485.07" cy="464.70" r="0.8" fill="#4DBBD5"/>
<circle cx="493.92" cy="466.62" r="0.8" fill="#4DBBD5"/>
<circle cx="492.50" cy="483.51" r="0.8" fill="#4DBBD5"/>
<circle cx="496.97" cy="478.22" r="0.8" fill="#4DBBD5"/>
<circle cx="497.24" cy="479.18" r="0.8" fill="#4DBBD5"/>
<circle cx="488.29" cy="469.54" r="0.8" fill="#4DBBD5"/>
<circle cx="485.46" cy="478.71" r="0.8" fill="#4DBBD5"/>
<circle cx="491.35" cy="482.11" r="0.8" fill="#4DBBD5"/>
<circle cx="494.29" cy="478.96" r="0.8" fill="#4DBBD5"/>
<circle cx="491.84" cy="472.38" r="0.8" fill="#4DBBD5"/>
<circle cx="496.53" cy="478.45" r="0.8" fill="#4DBBD5"/>
<circle cx="495.56" cy="482.42" r="0.8" fill="#4DBBD5"/>
<circle cx="487.86" cy="470.36" r="0.8" fill="#4DBBD5"/>
<circle cx="493.91" cy="464.63" r="0.8" fill="#4DBBD5"/>
<circle cx="498.69" cy="477.42" r="0.8" fill="#4DBBD5"/>
<circle cx="509.19" cy="457.88" r="0.8" fill="#4DBBD5"/>
<circle cx="480.10" cy="470.00" r="0.8" fill="#4DBBD5"/>
<circle cx="490.65" cy="473.96" r="0.8" fill="#4DBBD5"/>
<circle cx="493.19" cy="477.32" r="0.8" fill="#4DBBD5"/>
<circle cx="497.56" cy="472.48" r="0.8" fill="#4DBBD5"/>
<circle cx="487.20" cy="479.10" r="0.8" fill="#4DBBD5"/>
<circle cx="490.62" cy="479.26" r="0.8" fill="#4DBBD5"/>
<circle cx="487.76" cy="466.09" r="0.8" fill="#4DBBD5"/>
<circle cx="482.46" cy="471.05" r="0.8" fill="#4DBBD5"/>
<circle cx="487.55" cy="477.23" r="0.8" fill="#4DBBD5"/>
<circle cx="471.97" cy="459.88" r="0.8" fill="#4DBBD5"/>
<circle cx="495.11" cy="482.83" r="0.8" fill="#4DBBD5"/>
<circle cx="496.45" cy="469.23" r="0.8" fill="#4DBBD5"/>
<circle cx="496.63" cy="483.57" r="0.8" fill="#4DBBD5"/>
<circle cx="495.91" cy="483.49" r="0.8" fill="#4DBBD5"/>
<circle cx="483.33" cy="468.73" r="0.8" fill="#4DBBD5"/>
<circle cx="490.80" cy="483.25" r="0.8" fill="#4DBBD5"/>
<circle cx="490.74" cy="473.39" r="0.8" fill="#4DBBD5"/>
<circle cx="500.56" cy="458.14" r="0.8" fill="#4DBBD5"/>
<circle cx="495.66" cy="481.79" r="0.8" fill="#4DBBD5"/>
<circle cx="508.53" cy="458.67" r="0.8" fill="#4DBBD5"/>
<circle cx="490.16" cy="476.97" r="0.8" fill="#4DBBD5"/>
<circle cx="490.98" cy="466.68" r="0.8" fill="#4DBBD5"/>
<circle cx="485.31" cy="465.83" r="0.8" fill="#4DBBD5"/>
<circle cx="487.30" cy="476.35" r="0.8" fill="#4DBBD5"/>
<circle cx="485.46" cy="471.21" r="0.8" fill="#4DBBD5"/>
<circle cx="487.16" cy="474.40" r="0.8" fill="#4DBBD5"/>
<circle cx="504.98" cy="456.98" r="0.8" fill="#4DBBD5"/>
<circle cx="495.29" cy="482.63" r="0.8" fill="#4DBBD5"/>
<circle cx="486.28" cy="463.37" r="0.8" fill="#4DBBD5"/>
<circle cx="490.51" cy="472.46" r="0.8" fill="#4DBBD5"/>
<circle cx="486.81" cy="479.74" r="0.8" fill="#4DBBD5"/>
<circle cx="497.27" cy="474.38" r="0.8" fill="#4DBBD5"/>
<circle cx="500.13" cy="471.95" r="0.8" fill="#4DBBD5"/>
<circle cx="486.73" cy="457.13" r="0.8" fill="#4DBBD5"/>
<circle cx="491.87" cy="479.70" r="0.8" fill="#4DBBD5"/>
<circle cx="496.11" cy="477.54" r="0.8" fill="#4DBBD5"/>
<circle cx="495.43" cy="471.62" r="0.8" fill="#4DBBD5"/>
<circle cx="485.06" cy="472.54" r="0.8" fill="#4DBBD5"/>
<circle cx="499.85" cy="457.06" r="0.8" fill="#4DBBD5"/>
<circle cx="492.64" cy="468.86" r="0.8" fill="#4DBBD5"/>
<circle cx="482.05" cy="474.26" r="0.8" fill="#4DBBD5"/>
<circle cx="482.28" cy="465.62" r="0.8" fill="#4DBBD5"/>
<circle cx="495.09" cy="475.98" r="0.8" fill="#4DBBD5"/>
<circle cx="487.76" cy="457.90" r="0.8" fill="#4DBBD5"/>
<circle cx="495.34" cy="479.74" r="0.8" fill="#4DBBD5"/>
<circle cx="501.91" cy="467.07" r="0.8" fill="#4DBBD5"/>
<circle cx="501.29" cy="468.19" r="0.8" fill="#4DBBD5"/>
<circle cx="492.72" cy="481.69" r="0.8" fill="#4DBBD5"/>
<circle cx="481.76" cy="463.92" r="0.8" fill="#4DBBD5"/>
<circle cx="499.08" cy="476.76" r="0.8" fill="#4DBBD5"/>
<circle cx="492.13" cy="466.62" r="0.8" fill="#4DBBD5"/>
<circle cx="477.41" cy="466.68" r="0.8" fill="#4DBBD5"/>
<circle cx="494.25" cy="482.34" r="0.8" fill="#4DBBD5"/>
<circle cx="479.74" cy="459.86" r="0.8" fill="#4DBBD5"/>
<circle cx="490.53" cy="471.83" r="0.8" fill="#4DBBD5"/>
<circle cx="491.61" cy="475.58" r="0.8" fill="#4DBBD5"/>
<circle cx="492.16" cy="468.89" r="0.8" fill="#4DBBD5"/>
<circle cx="495.27" cy="482.22" r="0.8" fill="#4DBBD5"/>
<circle cx="497.50" cy="476.22" r="0.8" fill="#4DBBD5"/>
<circle cx="490.52" cy="463.54" r="0.8" fill="#4DBBD5"/>
<circle cx="495.50" cy="463.14" r="0.8" fill="#4DBBD5"/>
<circle cx="474.00" cy="465.31" r="0.8" fill="#4DBBD5"/>
<circle cx="495.75" cy="468.83" r="0.8" fill="#4DBBD5"/>
<circle cx="494.95" cy="468.90" r="0.8" fill="#4DBBD5"/>
<circle cx="501.45" cy="473.70" r="0.8" fill="#4DBBD5"/>
<circle cx="493.02" cy="477.55" r="0.8" fill="#4DBBD5"/>
<circle cx="487.66" cy="468.27" r="0.8" fill="#4DBBD5"/>
<circle cx="488.78" cy="466.84" r="0.8" fill="#4DBBD5"/>
<circle cx="495.29" cy="474.52" r="0.8" fill="#4DBBD5"/>
<circle cx="485.59" cy="475.14" r="0.8" fill="#4DBBD5"/>
<circle cx="490.84" cy="475.95" r="0.8" fill="#4DBBD5"/>
<circle cx="483.62" cy="461.16" r="0.8" fill="#4DBBD5"/>
<circle cx="486.21" cy="463.43" r="0.8" fill="#4DBBD5"/>
<circle cx="499.49" cy="473.98" r="0.8" fill="#4DBBD5"/>
<circle cx="505.54" cy="461.48" r="0.8" fill="#4DBBD5"/>
<circle cx="485.84" cy="476.82" r="0.8" fill="#4DBBD5"/>
<circle cx="485.69" cy="476.51" r="0.8" fill="#4DBBD5"/>
<circle cx="501.11" cy="465.74" r="0.8" fill="#4DBBD5"/>
<circle cx="497.60" cy="481.52" r="0.8" fill="#4DBBD5"/>
<circle cx="480.75" cy="471.76" r="0.8" fill="#4DBBD5"/>
<circle cx="489.77" cy="476.33" r="0.8" fill="#4DBBD5"/>
<circle cx="506.71" cy="455.14" r="0.8" fill="#4DBBD5"/>
<circle cx="492.17" cy="458.79" r="0.8" fill="#4DBBD5"/>
<circle cx="493.66" cy="468.75" r="0.8" fill="#4DBBD5"/>
<circle cx="509.14" cy="456.11" r="0.8" fill="#4DBBD5"/>
<circle cx="494.32" cy="481.44" r="0.8" fill="#4DBBD5"/>
<circle cx="492.42" cy="483.53" r="0.8" fill="#4DBBD5"/>
<circle cx="486.52" cy="478.76" r="0.8" fill="#4DBBD5"/>
<circle cx="490.40" cy="469.83" r="0.8" fill="#4DBBD5"/>
<circle cx="500.42" cy="470.86" r="0.8" fill="#4DBBD5"/>
<circle cx="483.18" cy="469.29" r="0.8" fill="#4DBBD5"/>
<circle cx="496.40" cy="482.60" r="0.8" fill="#4DBBD5"/>
<circle cx="504.34" cy="460.53" r="0.8" fill="#4DBBD5"/>
<circle cx="488.98" cy="468.23" r="0.8" fill="#4DBBD5"/>
<circle cx="477.48" cy="465.15" r="0.8" fill="#4DBBD5"/>
<circle cx="487.52" cy="462.96" r="0.8" fill="#4DBBD5"/>
<circle cx="494.24" cy="475.80" r="0.8" fill="#4DBBD5"/>
<circle cx="502.07" cy="472.85" r="0.8" fill="#4DBBD5"/>
<circle cx="474.32" cy="455.31" r="0.8" fill="#4DBBD5"/>
<circle cx="488.92" cy="464.17" r="0.8" fill="#4DBBD5"/>
<circle cx="493.06" cy="465.73" r="0.8" fill="#4DBBD5"/>
<circle cx="493.29" cy="480.13" r="0.8" fill="#4DBBD5"/>
<circle cx="500.29" cy="473.93" r="0.8" fill="#4DBBD5"/>
<circle cx="486.90" cy="478.64" r="0.8" fill="#4DBBD5"/>
<circle cx="500.50" cy="477.16" r="0.8" fill="#4DBBD5"/>
<circle cx="500.17" cy="475.86" r="0.8" fill="#4DBBD5"/>
<circle cx="489.01" cy="480.61" r="0.8" fill="#4DBBD5"/>
<circle cx="487.95" cy="478.96" r="0.8" fill="#4DBBD5"/>
<circle cx="483.55" cy="465.87" r="0.8" fill="#4DBBD5"/>
<circle cx="487.15" cy="478.83" r="0.8" fill="#4DBBD5"/>
<circle cx="492.01" cy="473.60" r="0.8" fill="#4DBBD5"/>
<circle cx="492.80" cy="478.81" r="0.8" fill="#4DBBD5"/>
<circle cx="488.54" cy="478.50" r="0.8" fill="#4DBBD5"/>
<circle cx="505.12" cy="457.12" r="0.8" fill="#4DBBD5"/>
<circle cx="486.09" cy="472.82" r="0.8" fill="#4DBBD5"/>
<circle cx="503.04" cy="463.22" r="0.8" fill="#4DBBD5"/>
<circle cx="474.63" cy="464.93" r="0.8" fill="#4DBBD5"/>
<circle cx="490.56" cy="478.46" r="0.8" fill="#4DBBD5"/>
<circle cx="489.82" cy="469.08" r="0.8" fill="#4DBBD5"/>
<circle cx="486.61" cy="458.44" r="0.8" fill="#4DBBD5"/>
<circle cx="499.28" cy="465.57" r="0.8" fill="#4DBBD5"/>
<circle cx="501.00" cy="472.94" r="0.8" fill="#4DBBD5"/>
<circle cx="480.18" cy="470.08" r="0.8" fill="#4DBBD5"/>
<circle cx="484.30" cy="477.40" r="0.8" fill="#4DBBD5"/>
<circle cx="495.35" cy="454.51" r="0.8" fill="#4DBBD5"/>
<circle cx="495.44" cy="481.94" r="0.8" fill="#4DBBD5"/>
<circle cx="494.19" cy="480.40" r="0.8" fill="#4DBBD5"/>
<circle cx="494.83" cy="481.87" r="0.8" fill="#4DBBD5"/>
<circle cx="491.96" cy="466.86" r="0.8" fill="#4DBBD5"/>
<circle cx="490.71" cy="478.49" r="0.8" fill="#4DBBD5"/>
<circle cx="486.33" cy="474.99" r="0.8" fill="#4DBBD5"/>
<circle cx="492.21" cy="473.68" r="0.8" fill="#4DBBD5"/>
<circle cx="492.63" cy="479.97" r="0.8" fill="#4DBBD5"/>
<circle cx="480.29" cy="462.11" r="0.8" fill="#4DBBD5"/>
<circle cx="490.39" cy="475.43" r="0.8" fill="#4DBBD5"/>
<circle cx="488.28" cy="481.18" r="0.8" fill="#4DBBD5"/>
<circle cx="499.74" cy="466.65" r="0.8" fill="#4DBBD5"/>
<circle cx="484.89" cy="458.21" r="0.8" fill="#4DBBD5"/>
<circle cx="491.91" cy="469.96" r="0.8" fill="#4DBBD5"/>
<circle cx="489.86" cy="471.80" r="0.8" fill="#4DBBD5"/>
<circle cx="500.79" cy="460.46" r="0.8" fill="#4DBBD5"/>
<circle cx="494.29" cy="476.80" r="0.8" fill="#4DBBD5"/>
<circle cx="490.13" cy="470.05" r="0.8" fill="#4DBBD5"/>
<circle cx="496.85" cy="474.55" r="0.8" fill="#4DBBD5"/>
<circle cx="489.76" cy="470.52" r="0.8" fill="#4DBBD5"/>
<circle cx="482.39" cy="466.29" r="0.8" fill="#4DBBD5"/>
<circle cx="485.21" cy="471.99" r="0.8" fill="#4DBBD5"/>
<circle cx="495.20" cy="480.81" r="0.8" fill="#4DBBD5"/>
<circle cx="479.34" cy="463.86" r="0.8" fill="#4DBBD5"/>
<circle cx="506.18" cy="464.95" r="0.8" fill="#4DBBD5"/>
<circle cx="491.87" cy="468.62" r="0.8" fill="#4DBBD5"/>
<circle cx="491.36" cy="473.50" r="0.8" fill="#4DBBD5"/>
<circle cx="498.09" cy="481.36" r="0.8" fill="#4DBBD5"/>
<circle cx="506.94" cy="457.31" r="0.8" fill="#4DBBD5"/>
<circle cx="499.62" cy="454.92" r="0.8" fill="#4DBBD5"/>
<circle cx="498.79" cy="473.56" r="0.8" fill="#4DBBD5"/>
<circle cx="496.97" cy="483.04" r="0.8" fill="#4DBBD5"/>
<circle cx="489.78" cy="464.86" r="0.8" fill="#4DBBD5"/>
<circle cx="494.87" cy="481.48" r="0.8" fill="#4DBBD5"/>
<circle cx="486.11" cy="473.91" r="0.8" fill="#4DBBD5"/>
<circle cx="492.36" cy="463.02" r="0.8" fill="#4DBBD5"/>
<circle cx="490.44" cy="472.00" r="0.8" fill="#4DBBD5"/>
<circle cx="499.76" cy="476.89" r="0.8" fill="#4DBBD5"/>
<circle cx="495.66" cy="461.68" r="0.8" fill="#4DBBD5"/>
<circle cx="489.23" cy="476.35" r="0.8" fill="#4DBBD5"/>
<circle cx="499.32" cy="472.75" r="0.8" fill="#4DBBD5"/>
<circle cx="493.69" cy="467.51" r="0.8" fill="#4DBBD5"/>
<circle cx="497.56" cy="475.00" r="0.8" fill="#4DBBD5"/>
<circle cx="501.28" cy="469.26" r="0.8" fill="#4DBBD5"/>
<circle cx="503.16" cy="471.98" r="0.8" fill="#4DBBD5"/>
<circle cx="499.33" cy="478.01" r="0.8" fill="#4DBBD5"/>
<circle cx="495.90" cy="465.28" r="0.8" fill="#4DBBD5"/>
<circle cx="495.38" cy="468.01" r="0.8" fill="#4DBBD5"/>
<circle cx="487.33" cy="475.46" r="0.8" fill="#4DBBD5"/>
<circle cx="489.65" cy="477.68" r="0.8" fill="#4DBBD5"/>
<circle cx="496.80" cy="481.98" r="0.8" fill="#4DBBD5"/>
<circle cx="475.95" cy="454.67" r="0.8" fill="#4DBBD5"/>
<circle cx="492.04" cy="481.83" r="0.8" fill="#4DBBD5"/>
<circle cx="494.09" cy="482.11" r="0.8" fill="#4DBBD5"/>
<circle cx="496.88" cy="477.59" r="0.8" fill="#4DBBD5"/>
<circle cx="496.62" cy="459.25" r="0.8" fill="#4DBBD5"/>
<circle cx="505.63" cy="465.10" r="0.8" fill="#4DBBD5"/>
<circle cx="489.80" cy="476.42" r="0.8" fill="#4DBBD5"/>
<circle cx="478.56" cy="456.03" r="0.8" fill="#4DBBD5"/>
<circle cx="498.11" cy="477.35" r="0.8" fill="#4DBBD5"/>
<circle cx="487.55" cy="480.91" r="0.8" fill="#4DBBD5"/>
<circle cx="487.90" cy="476.50" r="0.8" fill="#4DBBD5"/>
<circle cx="518.64" cy="465.58" r="0.8" fill="#4DBBD5"/>
<circle cx="526.26" cy="456.61" r="0.8" fill="#4DBBD5"/>
<circle cx="468.96" cy="475.02" r="0.8" fill="#4DBBD5"/>
<circle cx="526.63" cy="458.97" r="0.8" fill="#4DBBD5"/>
<circle cx="464.67" cy="460.15" r="0.8" fill="#4DBBD5"/>
<circle cx="512.71" cy="475.22" r="0.8" fill="#4DBBD5"/>
<circle cx="528.96" cy="460.25" r="0.8" fill="#4DBBD5"/>
<circle cx="510.98" cy="455.92" r="0.8" fill="#4DBBD5"/>
<circle cx="474.68" cy="457.84" r="0.8" fill="#4DBBD5"/>
<circle cx="515.15" cy="455.79" r="0.8" fill="#4DBBD5"/>
<circle cx="525.63" cy="472.73" r="0.8" fill="#4DBBD5"/>
<circle cx="527.57" cy="471.74" r="0.8" fill="#4DBBD5"/>
<circle cx="472.62" cy="465.79" r="0.8" fill="#4DBBD5"/>
<circle cx="454.95" cy="456.18" r="0.8" fill="#4DBBD5"/>
<circle cx="521.69" cy="459.69" r="0.8" fill="#4DBBD5"/>
<circle cx="521.82" cy="472.26" r="0.8" fill="#4DBBD5"/>
<circle cx="476.91" cy="467.57" r="0.8" fill="#4DBBD5"/>
<circle cx="520.78" cy="462.65" r="0.8" fill="#4DBBD5"/>
<circle cx="523.58" cy="466.87" r="0.8" fill="#4DBBD5"/>
<circle cx="459.81" cy="466.14" r="0.8" fill="#4DBBD5"/>
<circle cx="473.14" cy="460.75" r="0.8" fill="#4DBBD5"/>
<circle cx="529.13" cy="466.09" r="0.8" fill="#4DBBD5"/>
<circle cx="403.90" cy="443.80" r="0.8" fill="#4DBBD5"/>
<circle cx="448.10" cy="461.30" r="0.8" fill="#4DBBD5"/>
<circle cx="445.20" cy="465.00" r="0.8" fill="#4DBBD5"/>
<circle cx="452.00" cy="465.70" r="0.8" fill="#4DBBD5"/>
<circle cx="462.00" cy="467.60" r="0.8" fill="#4DBBD5"/>
<circle cx="456.10" cy="456.90" r="0.8" fill="#4DBBD5"/>
<circle cx="460.50" cy="454.70" r="0.8" fill="#4DBBD5"/>
<circle cx="540.20" cy="472.40" r="0.8" fill="#4DBBD5"/>
<circle cx="574.80" cy="472.70" r="0.8" fill="#4DBBD5"/>
<circle cx="596.40" cy="472.70" r="0.8" fill="#4DBBD5"/>
<circle cx="536.10" cy="444.40" r="0.8" fill="#4DBBD5"/>
<circle cx="509.40" cy="329.00" r="0.8" fill="#4DBBD5"/>
<circle cx="498.20" cy="391.20" r="0.8" fill="#4DBBD5"/>
<circle cx="509.70" cy="413.10" r="0.8" fill="#4DBBD5"/>
<circle cx="513.70" cy="414.00" r="0.8" fill="#4DBBD5"/>
<circle cx="509.80" cy="413.00" r="0.8" fill="#4DBBD5"/>
<circle cx="514.10" cy="414.20" r="0.8" fill="#4DBBD5"/>
<circle cx="502.50" cy="427.50" r="0.8" fill="#4DBBD5"/>
<circle cx="501.60" cy="435.20" r="0.8" fill="#4DBBD5"/>
<circle cx="519.20" cy="436.40" r="0.8" fill="#4DBBD5"/>
<circle cx="504.50" cy="440.40" r="0.8" fill="#4DBBD5"/>
<circle cx="513.30" cy="440.40" r="0.8" fill="#4DBBD5"/>
<circle cx="528.50" cy="440.40" r="0.8" fill="#4DBBD5"/>
<circle cx="496.70" cy="445.00" r="0.8" fill="#4DBBD5"/>
<circle cx="499.90" cy="445.00" r="0.8" fill="#4DBBD5"/>
<circle cx="503.10" cy="444.20" r="0.8" fill="#4DBBD5"/>
<circle cx="509.50" cy="448.20" r="0.8" fill="#4DBBD5"/>
<circle cx="503.70" cy="450.30" r="0.8" fill="#4DBBD5"/>
<circle cx="515.40" cy="454.10" r="0.8" fill="#4DBBD5"/>
<circle cx="523.50" cy="456.70" r="0.8" fill="#4DBBD5"/>
<circle cx="480.20" cy="430.20" r="0.8" fill="#4DBBD5"/>
<circle cx="488.50" cy="439.40" r="0.8" fill="#4DBBD5"/>
<circle cx="474.80" cy="443.20" r="0.8" fill="#4DBBD5"/>
<circle cx="474.80" cy="448.30" r="0.8" fill="#4DBBD5"/>
<circle cx="482.50" cy="449.00" r="0.8" fill="#4DBBD5"/>
<circle cx="485.00" cy="449.00" r="0.8" fill="#4DBBD5"/>
<circle cx="530.60" cy="462.00" r="0.8" fill="#4DBBD5"/>
<circle cx="524.00" cy="459.00" r="0.8" fill="#4DBBD5"/>
<circle cx="520.00" cy="463.00" r="0.8" fill="#4DBBD5"/>
<circle cx="534.00" cy="468.00" r="0.8" fill="#4DBBD5"/>
<circle cx="470.50" cy="441.00" r="0.8" fill="#4DBBD5"/>
<circle cx="466.00" cy="462.00" r="0.8" fill="#4DBBD5"/>
<circle cx="458.00" cy="470.00" r="0.8" fill="#4DBBD5"/>
<circle cx="441.00" cy="466.00" r="0.8" fill="#4DBBD5"/>
<circle cx="437.00" cy="470.00" r="0.8" fill="#4DBBD5"/>
<circle cx="449.00" cy="474.00" r="0.8" fill="#4DBBD5"/>
<circle cx="531.00" cy="452.00" r="0.8" fill="#4DBBD5"/>
<circle cx="538.00" cy="449.00" r="0.8" fill="#4DBBD5"/>
<circle cx="545.00" cy="462.00" r="0.8" fill="#4DBBD5"/>
<circle cx="478.00" cy="453.00" r="0.8" fill="#4DBBD5"/>
<circle cx="499.90" cy="419.10" r="1.1" fill="#E64B35"/>
<circle cx="505.00" cy="419.50" r="1.1" fill="#E64B35"/>
<circle cx="495.80" cy="430.70" r="1.1" fill="#E64B35"/>
<circle cx="497.80" cy="439.20" r="1.1" fill="#E64B35"/>
<circle cx="499.30" cy="439.00" r="1.1" fill="#E64B35"/>
<circle cx="500.80" cy="438.80" r="1.1" fill="#E64B35"/>
<circle cx="504.00" cy="442.40" r="1.1" fill="#E64B35"/>
<circle cx="516.20" cy="441.40" r="1.1" fill="#E64B35"/>
<circle cx="497.50" cy="447.10" r="1.1" fill="#E64B35"/>
<circle cx="501.30" cy="449.00" r="1.1" fill="#E64B35"/>
<circle cx="510.10" cy="446.10" r="1.1" fill="#E64B35"/>
<circle cx="497.50" cy="450.30" r="1.1" fill="#E64B35"/>
<circle cx="513.60" cy="451.90" r="1.1" fill="#E64B35"/>
<circle cx="495.20" cy="452.90" r="1.1" fill="#E64B35"/>
<circle cx="496.50" cy="453.50" r="1.1" fill="#E64B35"/>
<circle cx="502.00" cy="415.00" r="1.1" fill="#E64B35"/>
<circle cx="441.50" cy="434.70" r="1.1" fill="#00A087"/>
<circle cx="452.80" cy="437.70" r="1.1" fill="#00A087"/>
<circle cx="453.20" cy="448.20" r="1.1" fill="#00A087"/>
<circle cx="464.90" cy="452.60" r="1.1" fill="#00A087"/>
<circle cx="466.50" cy="453.60" r="1.1" fill="#00A087"/>
<circle cx="485.80" cy="413.50" r="1.1" fill="#00A087"/>
<circle cx="486.80" cy="415.20" r="1.1" fill="#00A087"/>
<circle cx="487.50" cy="417.00" r="1.1" fill="#00A087"/>
<circle cx="482.40" cy="419.60" r="1.1" fill="#00A087"/>
<circle cx="486.60" cy="420.60" r="1.1" fill="#00A087"/>
<circle cx="488.50" cy="418.40" r="1.1" fill="#00A087"/>
<circle cx="486.90" cy="424.40" r="1.1" fill="#00A087"/>
<circle cx="480.80" cy="426.70" r="1.1" fill="#00A087"/>
<circle cx="483.70" cy="427.30" r="1.1" fill="#00A087"/>
<circle cx="489.40" cy="427.90" r="1.1" fill="#00A087"/>
<circle cx="477.60" cy="432.40" r="1.1" fill="#00A087"/>
<circle cx="478.90" cy="434.30" r="1.1" fill="#00A087"/>
<circle cx="484.30" cy="432.70" r="1.1" fill="#00A087"/>
<circle cx="486.60" cy="434.60" r="1.1" fill="#00A087"/>
<circle cx="489.10" cy="435.90" r="1.1" fill="#00A087"/>
<circle cx="490.30" cy="435.60" r="1.1" fill="#00A087"/>
<circle cx="491.50" cy="436.00" r="1.1" fill="#00A087"/>
<circle cx="492.30" cy="435.80" r="1.1" fill="#00A087"/>
<circle cx="477.60" cy="441.80" r="1.1" fill="#00A087"/>
<circle cx="473.80" cy="444.20" r="1.1" fill="#00A087"/>
<circle cx="484.30" cy="441.30" r="1.1" fill="#00A087"/>
<circle cx="481.00" cy="443.50" r="1.1" fill="#00A087"/>
<circle cx="482.50" cy="444.50" r="1.1" fill="#00A087"/>
<circle cx="484.00" cy="443.50" r="1.1" fill="#00A087"/>
<circle cx="485.50" cy="445.00" r="1.1" fill="#00A087"/>
<circle cx="487.00" cy="444.30" r="1.1" fill="#00A087"/>
<circle cx="482.70" cy="447.00" r="1.1" fill="#00A087"/>
<circle cx="483.50" cy="446.00" r="1.1" fill="#00A087"/>
<circle cx="492.30" cy="444.20" r="1.1" fill="#00A087"/>
<circle cx="483.40" cy="451.50" r="1.1" fill="#00A087"/>
<circle cx="484.60" cy="452.80" r="1.1" fill="#00A087"/>
<circle cx="483.80" cy="454.00" r="1.1" fill="#00A087"/>
<circle cx="492.30" cy="451.80" r="1.1" fill="#00A087"/>
<circle cx="492.00" cy="453.50" r="1.1" fill="#00A087"/>
<circle cx="482.10" cy="454.00" r="1.1" fill="#00A087"/>
<circle cx="481.50" cy="452.50" r="1.1" fill="#00A087"/>
<circle cx="485.50" cy="453.00" r="1.1" fill="#00A087"/>
<circle cx="480.92" cy="414.45" r="1.3" fill="#00A087"/>
<circle cx="481.11" cy="411.85" r="1.3" fill="#00A087"/>
<circle cx="481.06" cy="412.67" r="1.3" fill="#00A087"/>
<circle cx="481.81" cy="410.55" r="1.3" fill="#00A087"/>
<circle cx="480.95" cy="413.70" r="1.3" fill="#00A087"/>
<circle cx="483.41" cy="412.25" r="1.3" fill="#00A087"/>
<circle cx="482.12" cy="411.31" r="1.3" fill="#00A087"/>
<circle cx="483.09" cy="415.43" r="1.3" fill="#00A087"/>
<circle cx="482.64" cy="415.79" r="1.3" fill="#00A087"/>
<circle cx="482.31" cy="411.34" r="1.3" fill="#00A087"/>
<circle cx="483.47" cy="414.53" r="1.3" fill="#00A087"/>
<circle cx="480.85" cy="413.52" r="1.3" fill="#00A087"/>
<circle cx="483.40" cy="411.12" r="1.3" fill="#00A087"/>
<circle cx="484.35" cy="410.63" r="1.3" fill="#00A087"/>
<circle cx="484.61" cy="411.10" r="1.3" fill="#00A087"/>
<circle cx="482.20" cy="414.63" r="1.3" fill="#00A087"/>
<circle cx="482.33" cy="410.92" r="1.3" fill="#00A087"/>
<circle cx="482.28" cy="413.55" r="1.3" fill="#00A087"/>
<circle cx="480.25" cy="411.53" r="1.3" fill="#00A087"/>
<circle cx="483.43" cy="411.71" r="1.3" fill="#00A087"/>
<circle cx="482.20" cy="410.39" r="1.3" fill="#00A087"/>
<circle cx="482.65" cy="414.59" r="1.3" fill="#00A087"/>
<circle cx="487" cy="400.1" r="1.9" fill="#00A087" stroke="#1d3a34" stroke-width="0.6"/>
<circle cx="483.5" cy="405.3" r="1.7" fill="#00A087" stroke="#1d3a34" stroke-width="0.6"/>
<circle cx="484.8" cy="408" r="1.7" fill="#00A087" stroke="#1d3a34" stroke-width="0.6"/>
<circle cx="473.1" cy="409.7" r="1.3" fill="#1d5a4e"/>
<circle cx="475.2" cy="367.4" r="1.3" fill="#1d5a4e"/>
<circle cx="501.9" cy="400.6" r="1.3" fill="#6a2018"/>
<circle cx="516.8" cy="404.0" r="1.3" fill="#E64B35" stroke="#5a1a12" stroke-width="0.6"/>
<circle cx="516.5" cy="406.3" r="1.3" fill="#E64B35" stroke="#5a1a12" stroke-width="0.6"/>
<line x1="597.70" y1="321.90" x2="517.40" y2="403.40" stroke="#555" stroke-width="0.7" />
<line x1="520.10" y1="382.10" x2="501.90" y2="400.40" stroke="#555" stroke-width="0.7" />
<line x1="516.80" y1="406.80" x2="536.50" y2="414.00" stroke="#555" stroke-width="0.7" />
<line x1="455.10" y1="377.30" x2="487.00" y2="400.00" stroke="#555" stroke-width="0.7" />
<line x1="454.10" y1="395.00" x2="512.40" y2="419.50" stroke="#555" stroke-width="0.7" />
<line x1="460.00" y1="417.30" x2="473.30" y2="409.60" stroke="#555" stroke-width="0.7" />
<text x="402.90" y="321.40" font-size="9.2" text-anchor="start" fill="#1a1a1a">Scutellarein 7-methyl ether 6-rhamnosyl-(1-&gt;4)-xyloside</text>
<text x="441.70" y="365.30" font-size="9.2" text-anchor="start" fill="#1a1a1a">D-Myoinositol 4-phosphate</text>
<text x="401.90" y="376.30" font-size="9.2" text-anchor="start" fill="#1a1a1a">Gingerglycolipid B</text>
<text x="496.40" y="380.70" font-size="9.2" text-anchor="start" fill="#1a1a1a">D-erythro-Eritadenine</text>
<text x="400.50" y="392.10" font-size="9.2" text-anchor="start" fill="#1a1a1a">Caryoptosidic acid</text>
<text x="538.40" y="415.30" font-size="9.2" text-anchor="start" fill="#1a1a1a">Wogonin</text>
<text x="398.60" y="424.10" font-size="9.2" text-anchor="start" fill="#1a1a1a">Octanoylglucuronide</text>
<text x="489.60" y="432.50" font-size="9.2" text-anchor="start" fill="#1a1a1a">PE(18:2(9Z,12Z)/P-16:0)</text>
<circle cx="623.5" cy="281.7" r="3.2" fill="#E64B35"/>
<text x="630.50" y="283.60" font-size="11.2" text-anchor="start" fill="#1a1a1a">up (18)</text>
<circle cx="623.5" cy="292.6" r="3.2" fill="#4DBBD5"/>
<text x="630.50" y="294.90" font-size="11.2" text-anchor="start" fill="#1a1a1a">nosig (703)</text>
<circle cx="623.5" cy="303.9" r="3.2" fill="#00A087"/>
<text x="630.50" y="306.20" font-size="11.2" text-anchor="start" fill="#1a1a1a">down (48)</text>
<text x="621.60" y="411.30" font-size="11.2" text-anchor="start" fill="#1a1a1a">VIP</text>
<circle cx="623.4" cy="420.7" r="1.5" fill="#000"/>
<text x="629.70" y="423.90" font-size="11.2" text-anchor="start" fill="#1a1a1a">4</text>
<circle cx="623.4" cy="432.1" r="2.0" fill="#000"/>
<text x="629.70" y="435.30" font-size="11.2" text-anchor="start" fill="#1a1a1a">9</text>
<circle cx="623.4" cy="444.2" r="2.5" fill="#000"/>
<text x="629.70" y="447.40" font-size="11.2" text-anchor="start" fill="#1a1a1a">14</text>
<circle cx="623.4" cy="456.3" r="2.9" fill="#000"/>
<text x="629.70" y="459.50" font-size="11.2" text-anchor="start" fill="#1a1a1a">19</text>
<rect x="33.3" y="553.000" width="60.10" height="6.935" fill="#A17370"/>
<rect x="92.8" y="553.000" width="59.00" height="6.935" fill="#84888E"/>
<text x="156.2" y="557.60" font-size="6.97" fill="#111">6-[(2-{[3-(3,4-dimethoxyphenyl)-7-methoxy-8-methyl-4-oxo-4H-chromen-5-yl]oxy}-3,5-dihydroxy-6-(hydroxymethyl)oxan-4-yl)oxy]-3,4,5-trihydroxyoxane-2-carboxylic acid</text>
<rect x="33.3" y="558.935" width="60.10" height="6.935" fill="#AA6E69"/>
<rect x="92.8" y="558.935" width="59.00" height="6.935" fill="#7E8E97"/>
<text x="156.2" y="563.53" font-size="6.97" fill="#111">L-Dopa</text>
<rect x="33.3" y="564.870" width="60.10" height="6.935" fill="#AA6E69"/>
<rect x="92.8" y="564.870" width="59.00" height="6.935" fill="#7E8E97"/>
<text x="156.2" y="569.47" font-size="6.97" fill="#111">Diphenhydramine N-glucuronide</text>
<rect x="33.3" y="570.805" width="60.10" height="6.935" fill="#C35F53"/>
<rect x="92.8" y="570.805" width="59.00" height="6.935" fill="#69A1B1"/>
<text x="156.2" y="575.40" font-size="6.97" fill="#111">Beta-D-Fructose 2-phosphate</text>
<rect x="33.3" y="576.740" width="60.10" height="6.935" fill="#BE6258"/>
<rect x="92.8" y="576.740" width="59.00" height="6.935" fill="#6D9DAC"/>
<text x="156.2" y="581.34" font-size="6.97" fill="#111">Aspartyl-Valine</text>
<rect x="33.3" y="582.675" width="60.10" height="6.935" fill="#BE6258"/>
<rect x="92.8" y="582.675" width="59.00" height="6.935" fill="#6D9DAC"/>
<text x="156.2" y="587.27" font-size="6.97" fill="#111">Malic acid</text>
<rect x="33.3" y="588.610" width="60.10" height="6.935" fill="#C55E52"/>
<rect x="92.8" y="588.610" width="59.00" height="6.935" fill="#68A2B3"/>
<text x="156.2" y="593.21" font-size="6.97" fill="#111">(1xi,2xi)-1-(4-Hydroxyphenyl)-1,2,3-propanetriol 3-O-beta-D-Glucopyranoside</text>
<rect x="33.3" y="594.545" width="60.10" height="6.935" fill="#C55E52"/>
<rect x="92.8" y="594.545" width="59.00" height="6.935" fill="#68A2B3"/>
<text x="156.2" y="599.14" font-size="6.97" fill="#111">3-Pyridylacetic acid</text>
<rect x="33.3" y="600.480" width="60.10" height="6.935" fill="#C55E52"/>
<rect x="92.8" y="600.480" width="59.00" height="6.935" fill="#68A2B3"/>
<text x="156.2" y="605.08" font-size="6.97" fill="#111">1-(sn-Glycero-3-phospho)-1D-myo-inositol</text>
<rect x="33.3" y="606.415" width="60.10" height="6.935" fill="#CC5A4C"/>
<rect x="92.8" y="606.415" width="59.00" height="6.935" fill="#62A7BA"/>
<text x="156.2" y="611.01" font-size="6.97" fill="#111">PE(20:4(8Z,11Z,14Z,17Z)/P-16:0)</text>
<rect x="33.3" y="612.350" width="60.10" height="6.935" fill="#CA5B4D"/>
<rect x="92.8" y="612.350" width="59.00" height="6.935" fill="#64A6B8"/>
<text x="156.2" y="616.95" font-size="6.97" fill="#111">Shikimic acid</text>
<rect x="33.3" y="618.285" width="60.10" height="6.935" fill="#C65D50"/>
<rect x="92.8" y="618.285" width="59.00" height="6.935" fill="#66A4B5"/>
<text x="156.2" y="622.88" font-size="6.97" fill="#111">Phosphoric acid</text>
<rect x="33.3" y="624.220" width="60.10" height="6.935" fill="#C65D50"/>
<rect x="92.8" y="624.220" width="59.00" height="6.935" fill="#66A4B5"/>
<text x="156.2" y="628.82" font-size="6.97" fill="#111">2-(3,4-dimethoxyphenyl)-3,5,6,7,8-pentahydroxy-4H-chromen-4-one</text>
<rect x="33.3" y="630.155" width="60.10" height="6.935" fill="#C65D50"/>
<rect x="92.8" y="630.155" width="59.00" height="6.935" fill="#66A4B5"/>
<text x="156.2" y="634.75" font-size="6.97" fill="#111">Prostaglandin D2-1-glyceryl ester</text>
<rect x="33.3" y="636.090" width="60.10" height="6.935" fill="#C65D50"/>
<rect x="92.8" y="636.090" width="59.00" height="6.935" fill="#66A4B5"/>
<text x="156.2" y="640.69" font-size="6.97" fill="#111">D-Glucarate</text>
<rect x="33.3" y="642.025" width="60.10" height="6.935" fill="#C65D50"/>
<rect x="92.8" y="642.025" width="59.00" height="6.935" fill="#66A4B5"/>
<text x="156.2" y="646.62" font-size="6.97" fill="#111">3,4,5-trihydroxy-6-[(3-phenylpropanoyl)oxy]oxane-2-carboxylic acid</text>
<rect x="33.3" y="647.960" width="60.10" height="6.935" fill="#C65D50"/>
<rect x="92.8" y="647.960" width="59.00" height="6.935" fill="#66A4B5"/>
<text x="156.2" y="652.56" font-size="6.97" fill="#111">3-Isopropylmalate</text>
<rect x="33.3" y="653.895" width="60.10" height="6.935" fill="#E14E3A"/>
<rect x="92.8" y="653.895" width="59.00" height="6.935" fill="#51B7D0"/>
<text x="156.2" y="658.50" font-size="6.97" fill="#111">Octanoylglucuronide</text>
<rect x="33.3" y="659.830" width="60.10" height="6.935" fill="#E14E3A"/>
<rect x="92.8" y="659.830" width="59.00" height="6.935" fill="#51B7D0"/>
<text x="156.2" y="664.43" font-size="6.97" fill="#111">3-Furoic acid</text>
<rect x="33.3" y="665.765" width="60.10" height="6.935" fill="#E14E3A"/>
<rect x="92.8" y="665.765" width="59.00" height="6.935" fill="#51B7D0"/>
<text x="156.2" y="670.37" font-size="6.97" fill="#111">Antiarol</text>
<rect x="33.3" y="671.700" width="60.10" height="6.935" fill="#DF4F3B"/>
<rect x="92.8" y="671.700" width="59.00" height="6.935" fill="#53B6CE"/>
<text x="156.2" y="676.30" font-size="6.97" fill="#111">DGDG(16:0/18:2)</text>
<rect x="33.3" y="677.635" width="60.10" height="6.935" fill="#DF4F3B"/>
<rect x="92.8" y="677.635" width="59.00" height="6.935" fill="#53B6CE"/>
<text x="156.2" y="682.24" font-size="6.97" fill="#111">Isocitrate</text>
<rect x="33.3" y="683.570" width="60.10" height="6.935" fill="#D85341"/>
<rect x="92.8" y="683.570" width="59.00" height="6.935" fill="#58B0C6"/>
<text x="156.2" y="688.17" font-size="6.97" fill="#111">DG(16:0/18:2(9Z,12Z)/0:0)</text>
<rect x="33.3" y="689.505" width="60.10" height="6.935" fill="#D85341"/>
<rect x="92.8" y="689.505" width="59.00" height="6.935" fill="#58B0C6"/>
<text x="156.2" y="694.11" font-size="6.97" fill="#111">Phosphocholine</text>
<rect x="33.3" y="695.440" width="60.10" height="6.935" fill="#D85341"/>
<rect x="92.8" y="695.440" width="59.00" height="6.935" fill="#58B0C6"/>
<text x="156.2" y="700.04" font-size="6.97" fill="#111">6-[1-(2H-1,3-benzodioxol-5-yl)-3-(4-methoxy-1-benzofuran-5-yl)-3-oxopropoxy]-3,4,5-trihydroxyoxane-2-carboxylic acid</text>
<rect x="33.3" y="701.375" width="60.10" height="6.935" fill="#D85341"/>
<rect x="92.8" y="701.375" width="59.00" height="6.935" fill="#58B0C6"/>
<text x="156.2" y="705.98" font-size="6.97" fill="#111">LysoPA(0:0/18:2(9Z,12Z))</text>
<rect x="33.3" y="707.310" width="60.10" height="6.935" fill="#CF5849"/>
<rect x="92.8" y="707.310" width="59.00" height="6.935" fill="#60AABD"/>
<text x="156.2" y="711.91" font-size="6.97" fill="#111">L-Gulonic gamma-lactone</text>
<rect x="33.3" y="713.245" width="60.10" height="6.935" fill="#CF5849"/>
<rect x="92.8" y="713.245" width="59.00" height="6.935" fill="#60AABD"/>
<text x="156.2" y="717.85" font-size="6.97" fill="#111">PC(16:0/0:0)</text>
<rect x="33.3" y="719.180" width="60.10" height="6.935" fill="#CF5849"/>
<rect x="92.8" y="719.180" width="59.00" height="6.935" fill="#60AABD"/>
<text x="156.2" y="723.78" font-size="6.97" fill="#111">2,4,6-Octatriyn-1-ol</text>
<rect x="33.3" y="725.115" width="60.10" height="6.935" fill="#D15747"/>
<rect x="92.8" y="725.115" width="59.00" height="6.935" fill="#5EABBF"/>
<text x="156.2" y="729.72" font-size="6.97" fill="#111">Endoxifen O-glucuronide</text>
<rect x="33.3" y="731.050" width="60.10" height="6.935" fill="#D35646"/>
<rect x="92.8" y="731.050" width="59.00" height="6.935" fill="#5DADC1"/>
<text x="156.2" y="735.65" font-size="6.97" fill="#111">Trehalose 6-phosphate</text>
<rect x="33.3" y="736.985" width="60.10" height="6.935" fill="#D35646"/>
<rect x="92.8" y="736.985" width="59.00" height="6.935" fill="#5DADC1"/>
<text x="156.2" y="741.59" font-size="6.97" fill="#111">LysoPC(16:0)</text>
<rect x="33.3" y="742.920" width="60.10" height="6.935" fill="#51B7D0"/>
<rect x="92.8" y="742.920" width="59.00" height="6.935" fill="#E14E3A"/>
<text x="156.2" y="747.52" font-size="6.97" fill="#111">Scutellarein 7-methyl ether 6-rhamnosyl-(1-&gt;4)-xyloside</text>
<rect x="33.3" y="748.855" width="60.10" height="6.935" fill="#51B7D0"/>
<rect x="92.8" y="748.855" width="59.00" height="6.935" fill="#E14E3A"/>
<text x="156.2" y="753.46" font-size="6.97" fill="#111">D-erythro-Eritadenine</text>
<rect x="33.3" y="754.790" width="60.10" height="6.935" fill="#58B0C6"/>
<rect x="92.8" y="754.790" width="59.00" height="6.935" fill="#D85341"/>
<text x="156.2" y="759.39" font-size="6.97" fill="#111">DL-2-Aminooctanoic acid</text>
<rect x="33.3" y="760.725" width="60.10" height="6.935" fill="#58B0C6"/>
<rect x="92.8" y="760.725" width="59.00" height="6.935" fill="#D85341"/>
<text x="156.2" y="765.33" font-size="6.97" fill="#111">Pyridoxine (Vitamin B6)</text>
<rect x="33.3" y="766.660" width="60.10" height="6.935" fill="#818A92"/>
<rect x="92.8" y="766.660" width="59.00" height="6.935" fill="#A5716D"/>
<text x="156.2" y="771.26" font-size="6.97" fill="#111">3,4,5-trihydroxy-6-[(1-oxo-1H-isochromen-3-yl)methoxy]oxane-2-carboxylic acid</text>
<rect x="33.3" y="772.595" width="60.10" height="6.935" fill="#818A92"/>
<rect x="92.8" y="772.595" width="59.00" height="6.935" fill="#A5716D"/>
<text x="156.2" y="777.20" font-size="6.97" fill="#111">3,4,5-trihydroxy-6-[(2-{9-[(3-methylbut-2-enoyl)oxy]-2-oxo-2H,8H,9H-furo[2,3-h]chromen-8-yl}propan-2-yl)oxy]oxane-2-carboxylic acid</text>
<rect x="33.3" y="778.530" width="60.10" height="6.935" fill="#7C8F99"/>
<rect x="92.8" y="778.530" width="59.00" height="6.935" fill="#AB6D67"/>
<text x="156.2" y="783.13" font-size="6.97" fill="#111">3-Galactosyllactose</text>
<rect x="33.3" y="784.465" width="60.10" height="6.935" fill="#7C8F99"/>
<rect x="92.8" y="784.465" width="59.00" height="6.935" fill="#AB6D67"/>
<text x="156.2" y="789.06" font-size="6.97" fill="#111">20-COOH-10,11-dihydro-LTB4</text>
<rect x="33.3" y="790.400" width="60.10" height="6.935" fill="#7C8F99"/>
<rect x="92.8" y="790.400" width="59.00" height="6.935" fill="#AB6D67"/>
<text x="156.2" y="795.00" font-size="6.97" fill="#111">7,18-Dihydroxykaurenolide</text>
<rect x="33.3" y="796.335" width="60.10" height="6.935" fill="#709BA8"/>
<rect x="92.8" y="796.335" width="59.00" height="6.935" fill="#BA645A"/>
<text x="156.2" y="800.94" font-size="6.97" fill="#111">(6-{[3,4-dihydroxy-2,5-bis(hydroxymethyl)oxolan-2-yl]oxy}-3,4,5-trihydroxyoxan-2-yl)methyl (2E)-3-(4-hydroxy-3-methoxyphenyl)prop-2-enoate</text>
<rect x="33.3" y="802.270" width="60.10" height="6.935" fill="#69A1B1"/>
<rect x="92.8" y="802.270" width="59.00" height="6.935" fill="#C35F53"/>
<text x="156.2" y="806.87" font-size="6.97" fill="#111">L-Galacto-2-heptulose</text>
<rect x="33.3" y="808.205" width="60.10" height="6.935" fill="#64A6B8"/>
<rect x="92.8" y="808.205" width="59.00" height="6.935" fill="#CA5B4D"/>
<text x="156.2" y="812.80" font-size="6.97" fill="#111">Ascladiol</text>
<rect x="33.3" y="814.140" width="60.10" height="6.935" fill="#64A6B8"/>
<rect x="92.8" y="814.140" width="59.00" height="6.935" fill="#CA5B4D"/>
<text x="156.2" y="818.74" font-size="6.97" fill="#111">Avenanthramide A2</text>
<rect x="33.3" y="820.075" width="60.10" height="6.935" fill="#64A6B8"/>
<rect x="92.8" y="820.075" width="59.00" height="6.935" fill="#CA5B4D"/>
<text x="156.2" y="824.68" font-size="6.97" fill="#111">Cer(d18:0/16:0)</text>
<rect x="33.3" y="826.010" width="60.10" height="6.935" fill="#64A6B8"/>
<rect x="92.8" y="826.010" width="59.00" height="6.935" fill="#CA5B4D"/>
<text x="156.2" y="830.61" font-size="6.97" fill="#111">Gravacridonediol</text>
<rect x="33.3" y="831.945" width="60.10" height="6.935" fill="#64A6B8"/>
<rect x="92.8" y="831.945" width="59.00" height="6.935" fill="#CA5B4D"/>
<text x="156.2" y="836.54" font-size="6.97" fill="#111">3,4,5-trihydroxy-6-{[2,3,4-trihydroxy-5-(hydroxymethyl)oxolan-2-yl]methoxy}oxane-2-carboxylic acid</text>
<rect x="33.3" y="837.880" width="60.10" height="6.935" fill="#64A6B8"/>
<rect x="92.8" y="837.880" width="59.00" height="6.935" fill="#CA5B4D"/>
<text x="156.2" y="842.48" font-size="6.97" fill="#111">16-Hydroxy hexadecanoic acid</text>
<rect x="33.3" y="843.815" width="60.10" height="5.935" fill="#64A6B8"/>
<rect x="92.8" y="843.815" width="59.00" height="5.935" fill="#CA5B4D"/>
<text x="156.2" y="848.42" font-size="6.97" fill="#111">Gamma-Glu-Leu</text>
<rect x="33.3" y="543.7" width="59.50" height="7.1" fill="#9E7282"/>
<rect x="92.8" y="543.7" width="59.90" height="7.1" fill="#C49397"/>
<path d="M63.2,543.6 V519.5 H122.7 V543.6" fill="none" stroke="#555" stroke-width="1"/>
<rect x="24.2" y="553.000" width="7.1" height="6.735" fill="#D2D2D2"/>
<rect x="24.2" y="558.935" width="7.1" height="12.670" fill="#C08A84"/>
<rect x="24.2" y="570.805" width="7.1" height="18.605" fill="#35ABAA"/>
<rect x="24.2" y="588.610" width="7.1" height="66.085" fill="#DC0000"/>
<rect x="24.2" y="653.895" width="7.1" height="30.475" fill="#8491B4"/>
<rect x="24.2" y="683.570" width="7.1" height="60.150" fill="#91D1C2"/>
<rect x="24.2" y="742.920" width="7.1" height="24.540" fill="#7E6148"/>
<rect x="24.2" y="766.660" width="7.1" height="30.475" fill="#3C5488"/>
<rect x="24.2" y="796.335" width="7.1" height="6.735" fill="#367C8A"/>
<rect x="24.2" y="802.270" width="7.1" height="47.480" fill="#F39B7F"/>
<path d="M17.2,560.3 H22.6 M17.2,560.3 V640.4 H20.3 M20.3,593.4 H22.4 M20.3,593.4 V687.0 H22.2" fill="none" stroke="#555" stroke-width="0.9"/>
<path d="M5.5,600.4 H17.2 M5.5,600.4 V773.4 H17.0" fill="none" stroke="#555" stroke-width="0.9"/>
<path d="M17.0,754.3 H22.7 M17.0,754.3 V792.3 H19.4 M19.4,777.0 H22.2 M19.4,777.0 V807.1 H22.2 M22.2,799.4 H23.0" fill="none" stroke="#555" stroke-width="0.9"/>
<path d="M23.2,555.6 H23.9 M22.6,555.6 V564.5 M23.0,562 V567.6 M23.4,573.7 V583.1 M22.4,578.4 H23.4 M22.4,578.4 V600 M22.5,600 V609.3 H23.5 M23.5,612 V622.7 M22.9,625 V652 M22.4,657 V683 M22.8,688 V712 M23.4,714 V742 M22.7,745 V765 M22.3,770 V795 M22.6,800 V812 M23.3,815 V848" fill="none" stroke="#3a3a3a" stroke-width="0.75"/>
<text x="64.80" y="862.60" font-size="11.2" text-anchor="middle" fill="#1a1a1a">HR</text>
<text x="123.50" y="862.60" font-size="11.2" text-anchor="middle" fill="#1a1a1a">HS</text>
<rect x="603.3" y="650.10" width="5.6" height="5.7" fill="#3C5488"/>
<text x="613.9" y="655.50" font-size="11" fill="#1a1a1a" transform="translate(0,78.660) scale(1,0.88)">subcluster_1</text>
<rect x="603.3" y="659.98" width="5.6" height="5.7" fill="#F39B7F"/>
<text x="613.9" y="665.38" font-size="11" fill="#1a1a1a" transform="translate(0,79.846) scale(1,0.88)">subcluster_2</text>
<rect x="603.3" y="669.86" width="5.6" height="5.7" fill="#8491B4"/>
<text x="613.9" y="675.26" font-size="11" fill="#1a1a1a" transform="translate(0,81.031) scale(1,0.88)">subcluster_3</text>
<rect x="603.3" y="679.74" width="5.6" height="5.7" fill="#91D1C2"/>
<text x="613.9" y="685.14" font-size="11" fill="#1a1a1a" transform="translate(0,82.217) scale(1,0.88)">subcluster_4</text>
<rect x="603.3" y="689.62" width="5.6" height="5.7" fill="#DC0000"/>
<text x="613.9" y="695.02" font-size="11" fill="#1a1a1a" transform="translate(0,83.402) scale(1,0.88)">subcluster_5</text>
<rect x="603.3" y="699.50" width="5.6" height="5.7" fill="#7E6148"/>
<text x="613.9" y="704.90" font-size="11" fill="#1a1a1a" transform="translate(0,84.588) scale(1,0.88)">subcluster_6</text>
<rect x="603.3" y="709.38" width="5.6" height="5.7" fill="#D2D2D2"/>
<text x="613.9" y="714.78" font-size="11" fill="#1a1a1a" transform="translate(0,85.774) scale(1,0.88)">subcluster_7</text>
<rect x="603.3" y="719.26" width="5.6" height="5.7" fill="#C08A84"/>
<text x="613.9" y="724.66" font-size="11" fill="#1a1a1a" transform="translate(0,86.959) scale(1,0.88)">subcluster_8</text>
<rect x="603.3" y="729.14" width="5.6" height="5.7" fill="#35ABAA"/>
<text x="613.9" y="734.54" font-size="11" fill="#1a1a1a" transform="translate(0,88.145) scale(1,0.88)">subcluster_9</text>
<rect x="603.3" y="739.02" width="5.6" height="5.7" fill="#367C8A"/>
<text x="613.9" y="744.42" font-size="11" fill="#1a1a1a" transform="translate(0,89.330) scale(1,0.88)">subcluster_10</text>
<defs><linearGradient id="cb" x1="0" y1="0" x2="0" y2="1"><stop offset="0" stop-color="#4DBBD5"/><stop offset="1" stop-color="#E64B35"/></linearGradient></defs>
<rect x="620.1" y="771.0" width="9.0" height="46.4" fill="url(#cb)"/>
<line x1="629.10" y1="771.00" x2="630.60" y2="771.00" stroke="#bbb" stroke-width="0.6" />
<text x="631.8" y="771.80" font-size="11" fill="#1a1a1a" transform="translate(0,108.052) scale(1,0.86)">0.6</text>
<line x1="629.10" y1="778.73" x2="630.60" y2="778.73" stroke="#bbb" stroke-width="0.6" />
<text x="631.8" y="779.53" font-size="11" fill="#1a1a1a" transform="translate(0,109.135) scale(1,0.86)">0.4</text>
<line x1="629.10" y1="786.47" x2="630.60" y2="786.47" stroke="#bbb" stroke-width="0.6" />
<text x="631.8" y="787.27" font-size="11" fill="#1a1a1a" transform="translate(0,110.217) scale(1,0.86)">0.2</text>
<line x1="629.10" y1="794.20" x2="630.60" y2="794.20" stroke="#bbb" stroke-width="0.6" />
<text x="631.8" y="795.00" font-size="11" fill="#1a1a1a" transform="translate(0,111.300) scale(1,0.86)">0</text>
<line x1="629.10" y1="801.93" x2="630.60" y2="801.93" stroke="#bbb" stroke-width="0.6" />
<text x="631.8" y="802.73" font-size="11" fill="#1a1a1a" transform="translate(0,112.383) scale(1,0.86)">-0.2</text>
<line x1="629.10" y1="809.67" x2="630.60" y2="809.67" stroke="#bbb" stroke-width="0.6" />
<text x="631.8" y="810.47" font-size="11" fill="#1a1a1a" transform="translate(0,113.465) scale(1,0.86)">-0.4</text>
<line x1="629.10" y1="817.40" x2="630.60" y2="817.40" stroke="#bbb" stroke-width="0.6" />
<text x="631.8" y="818.20" font-size="11" fill="#1a1a1a" transform="translate(0,114.548) scale(1,0.86)">-0.6</text>
<rect x="617.0" y="824.9" width="5.7" height="5.2" fill="#9E7283"/>
<text x="624.50" y="830.60" font-size="11.2" text-anchor="start" fill="#1a1a1a">HR</text>
<rect x="617.0" y="833.4" width="5.7" height="5.4" fill="#C7979F"/>
<text x="624.50" y="839.60" font-size="11.2" text-anchor="start" fill="#1a1a1a">HS</text>
</g>
</svg></body></html>
